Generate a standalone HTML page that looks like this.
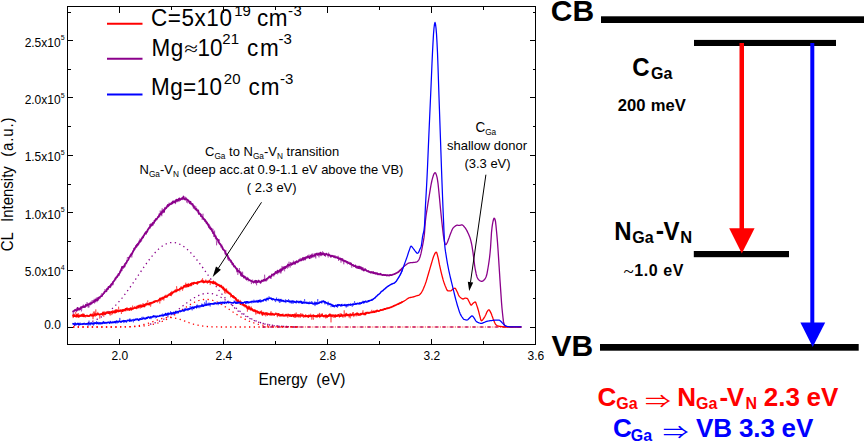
<!DOCTYPE html>
<html lang="en"><head><meta charset="utf-8"><title>CL spectra and transition scheme</title>
<style>
html,body{margin:0;padding:0;background:#fff;}
body{width:864px;height:442px;overflow:hidden;}
svg{display:block;}
text{font-family:"Liberation Sans",sans-serif;fill:#000;}
.b{font-weight:bold;}
.sym{font-family:"Liberation Serif","DejaVu Serif",serif;font-weight:normal;}
.arr{font-family:"Liberation Sans","Noto Sans CJK SC","DejaVu Sans",sans-serif;font-weight:normal;}
</style></head><body>
<svg width="864" height="442" viewBox="0 0 864 442">
<rect x="0" y="0" width="864" height="442" fill="#fff"/>
<g fill="none" stroke-width="1.3" stroke-linecap="butt" stroke-dasharray="1.3 3.4">
<path d="M74 325.6 L75 325.4 L76 325.3 L77 325.2 L78 325 L79 324.9 L80 324.7 L81 324.5 L82 324.3 L83 324.1 L84 323.9 L85 323.6 L86 323.4 L87 323.1 L88 322.8 L89 322.5 L90 322.2 L91 321.8 L92 321.4 L93 321.1 L94 320.7 L95 320.2 L96 319.8 L97 319.3 L98 318.8 L99 318.3 L100 317.7 L101 317.1 L102 316.5 L103 315.9 L104 315.2 L105 314.5 L106 313.8 L107 313.1 L108 312.3 L109 311.5 L110 310.6 L111 309.7 L112 308.8 L113 307.9 L114 306.9 L115 305.9 L116 304.9 L117 303.8 L118 302.7 L119 301.6 L120 300.5 L121 299.3 L122 298.1 L123 296.8 L124 295.5 L125 294.2 L126 292.9 L127 291.6 L128 290.2 L129 288.8 L130 287.4 L131 286 L132 284.6 L133 283.1 L134 281.7 L135 280.2 L136 278.7 L137 277.2 L138 275.7 L139 274.3 L140 272.8 L141 271.3 L142 269.8 L143 268.4 L144 266.9 L145 265.5 L146 264.1 L147 262.7 L148 261.3 L149 260 L150 258.7 L151 257.4 L152 256.2 L153 255 L154 253.8 L155 252.7 L156 251.6 L157 250.6 L158 249.6 L159 248.7 L160 247.9 L161 247.1 L162 246.3 L163 245.6 L164 245 L165 244.5 L166 244 L167 243.6 L168 243.2 L169 242.9 L170 242.7 L171 242.6 L172 242.5 L173 242.5 L174 242.6 L175 242.7 L176 242.9 L177 243.2 L178 243.5 L179 243.9 L180 244.3 L181 244.8 L182 245.4 L183 246 L184 246.7 L185 247.4 L186 248.2 L187 249.1 L188 250 L189 250.9 L190 251.9 L191 253 L192 254 L193 255.1 L194 256.3 L195 257.5 L196 258.7 L197 260 L198 261.2 L199 262.6 L200 263.9 L201 265.2 L202 266.6 L203 268 L204 269.4 L205 270.8 L206 272.2 L207 273.6 L208 275 L209 276.5 L210 277.9 L211 279.3 L212 280.7 L213 282.1 L214 283.5 L215 284.9 L216 286.3 L217 287.6 L218 289 L219 290.3 L220 291.6 L221 292.9 L222 294.2 L223 295.4 L224 296.6 L225 297.8 L226 299 L227 300.1 L228 301.3 L229 302.3 L230 303.4 L231 304.4 L232 305.4 L233 306.4 L234 307.4 L235 308.3 L236 309.2 L237 310 L238 310.9 L239 311.7 L240 312.4 L241 313.2 L242 313.9 L243 314.6 L244 315.2 L245 315.9 L246 316.5 L247 317.1 L248 317.6 L249 318.2 L250 318.7 L251 319.2 L252 319.6 L253 320.1 L254 320.5 L255 320.9 L256 321.3 L257 321.6 L258 322 L259 322.3 L260 322.6 L261 322.9 L262 323.2 L263 323.4 L264 323.7 L265 323.9 L266 324.1 L267 324.3 L268 324.5 L269 324.7 L270 324.8 L271 325 L272 325.1 L273 325.3 L274 325.4 L275 325.5 L276 325.6 L277 325.7 L278 325.8 L279 325.9 L280 326 L281 326.1 L282 326.2 L283 326.2 L284 326.3 L285 326.4 L286 326.4 L287 326.5 L288 326.5 L289 326.6 L290 326.6 L291 326.6 L292 326.7 L293 326.7 L294 326.7 L295 326.7 L296 326.8 L297 326.8 L298 326.8 L299 326.8 L300 326.8" stroke="#8b008b"/>
<path d="M150 324.2 L151 324 L152 323.7 L153 323.4 L154 323.1 L155 322.8 L156 322.4 L157 322.1 L158 321.7 L159 321.3 L160 320.9 L161 320.4 L162 320 L163 319.5 L164 319 L165 318.4 L166 317.9 L167 317.3 L168 316.7 L169 316.1 L170 315.4 L171 314.8 L172 314.1 L173 313.4 L174 312.7 L175 311.9 L176 311.2 L177 310.4 L178 309.7 L179 308.9 L180 308.1 L181 307.3 L182 306.6 L183 305.8 L184 305 L185 304.2 L186 303.4 L187 302.7 L188 301.9 L189 301.2 L190 300.5 L191 299.8 L192 299.1 L193 298.5 L194 297.8 L195 297.3 L196 296.7 L197 296.2 L198 295.7 L199 295.3 L200 294.9 L201 294.5 L202 294.2 L203 293.9 L204 293.7 L205 293.5 L206 293.4 L207 293.3 L208 293.3 L209 293.3 L210 293.4 L211 293.5 L212 293.7 L213 293.9 L214 294.2 L215 294.5 L216 294.9 L217 295.3 L218 295.7 L219 296.2 L220 296.7 L221 297.3 L222 297.8 L223 298.5 L224 299.1 L225 299.8 L226 300.5 L227 301.2 L228 301.9 L229 302.7 L230 303.4 L231 304.2 L232 305 L233 305.8 L234 306.6 L235 307.3 L236 308.1 L237 308.9 L238 309.7 L239 310.4 L240 311.2 L241 311.9 L242 312.7 L243 313.4 L244 314.1 L245 314.8 L246 315.4 L247 316.1 L248 316.7 L249 317.3 L250 317.9 L251 318.4 L252 319 L253 319.5 L254 320 L255 320.4 L256 320.9 L257 321.3 L258 321.7 L259 322.1 L260 322.4 L261 322.8 L262 323.1 L263 323.4 L264 323.7 L265 324 L266 324.2 L267 324.4 L268 324.6 L269 324.9 L270 325 L271 325.2 L272 325.4 L273 325.5 L274 325.7 L275 325.8 L276 325.9 L277 326 L278 326.1 L279 326.2 L280 326.3 L281 326.3 L282 326.4 L283 326.5 L284 326.5 L285 326.6 L286 326.6 L287 326.7 L288 326.7 L289 326.7 L290 326.8 L291 326.8 L292 326.8 L293 326.8 L294 326.9 L295 326.9 L296 326.9 L297 326.9 L298 326.9 L299 326.9 L300 326.9" stroke="#8b008b"/>
<path d="M73 327 L74 327 L75 327 L76 327 L77 327 L78 327 L79 327 L80 327 L81 327 L82 327 L83 327 L84 327 L85 327 L86 327 L87 327 L88 327 L89 327 L90 327 L91 327 L92 327 L93 327 L94 327 L95 327 L96 327 L97 327 L98 327 L99 327 L100 327 L101 327 L102 327 L103 327 L104 327 L105 327 L106 327 L107 327 L108 327 L109 327 L110 327 L111 327 L112 327 L113 327 L114 327 L115 327 L116 327 L117 327 L118 327 L119 326.9 L120 326.9 L121 326.9 L122 326.9 L123 326.9 L124 326.9 L125 326.9 L126 326.9 L127 326.8 L128 326.8 L129 326.8 L130 326.8 L131 326.7 L132 326.7 L133 326.7 L134 326.6 L135 326.6 L136 326.5 L137 326.5 L138 326.4 L139 326.3 L140 326.3 L141 326.2 L142 326.1 L143 326 L144 325.9 L145 325.8 L146 325.6 L147 325.5 L148 325.3 L149 325.2 L150 325 L151 324.8 L152 324.6 L153 324.3 L154 324.1 L155 323.8 L156 323.6 L157 323.3 L158 323 L159 322.6 L160 322.3 L161 321.9 L162 321.5 L163 321.1 L164 320.7 L165 320.2 L166 319.7 L167 319.2 L168 318.7 L169 318.2 L170 317.6 L171 317.1 L172 316.5 L173 315.9 L174 315.2 L175 314.6 L176 314 L177 313.3 L178 312.6 L179 312 L180 311.3 L181 310.6 L182 309.9 L183 309.2 L184 308.6 L185 307.9 L186 307.2 L187 306.6 L188 305.9 L189 305.3 L190 304.7 L191 304.1 L192 303.6 L193 303 L194 302.5 L195 302 L196 301.6 L197 301.2 L198 300.8 L199 300.5 L200 300.2 L201 300 L202 299.8 L203 299.6 L204 299.5 L205 299.4 L206 299.4 L207 299.4 L208 299.5 L209 299.6 L210 299.8 L211 300 L212 300.2 L213 300.5 L214 300.8 L215 301.2 L216 301.6 L217 302 L218 302.5 L219 303 L220 303.6 L221 304.1 L222 304.7 L223 305.3 L224 305.9 L225 306.6 L226 307.2 L227 307.9 L228 308.6 L229 309.2 L230 309.9 L231 310.6 L232 311.3 L233 312 L234 312.6 L235 313.3 L236 314 L237 314.6 L238 315.2 L239 315.9 L240 316.5 L241 317.1 L242 317.6 L243 318.2 L244 318.7 L245 319.2 L246 319.7 L247 320.2 L248 320.7 L249 321.1 L250 321.5 L251 321.9 L252 322.3 L253 322.6 L254 323 L255 323.3 L256 323.6 L257 323.8 L258 324.1 L259 324.3 L260 324.6 L261 324.8 L262 325 L263 325.2 L264 325.3 L265 325.5 L266 325.6 L267 325.8 L268 325.9 L269 326 L270 326.1 L271 326.2 L272 326.3 L273 326.3 L274 326.4 L275 326.5 L276 326.5 L277 326.6 L278 326.6 L279 326.7 L280 326.7 L281 326.7 L282 326.8 L283 326.8 L284 326.8 L285 326.8 L286 326.9 L287 326.9 L288 326.9 L289 326.9 L290 326.9 L291 326.9 L292 326.9 L293 326.9 L294 327 L295 327 L296 327 L297 327 L298 327 L299 327 L300 327" stroke="#ff0000"/>
<path d="M73 327 L74 327 L75 327 L76 327 L77 327 L78 327 L79 327 L80 327 L81 327 L82 327 L83 327 L84 327 L85 327 L86 327 L87 327 L88 327 L89 327 L90 327 L91 327 L92 327 L93 327 L94 327 L95 327 L96 327 L97 327 L98 327 L99 327 L100 327 L101 327 L102 327 L103 327 L104 327 L105 327 L106 327 L107 327 L108 327 L109 327 L110 327 L111 327 L112 327 L113 327 L114 327 L115 327 L116 327 L117 327 L118 327 L119 327 L120 326.9 L121 326.9 L122 326.9 L123 326.9 L124 326.9 L125 326.8 L126 326.8 L127 326.8 L128 326.7 L129 326.7 L130 326.6 L131 326.6 L132 326.5 L133 326.4 L134 326.3 L135 326.2 L136 326.1 L137 325.9 L138 325.8 L139 325.6 L140 325.4 L141 325.2 L142 325 L143 324.8 L144 324.5 L145 324.3 L146 324 L147 323.7 L148 323.4 L149 323 L150 322.7 L151 322.3 L152 322 L153 321.6 L154 321.2 L155 320.9 L156 320.5 L157 320.1 L158 319.8 L159 319.4 L160 319.1 L161 318.8 L162 318.5 L163 318.3 L164 318.1 L165 317.9 L166 317.7 L167 317.6 L168 317.5 L169 317.5 L170 317.5 L171 317.5 L172 317.6 L173 317.7 L174 317.9 L175 318.1 L176 318.3 L177 318.5 L178 318.8 L179 319.1 L180 319.4 L181 319.8 L182 320.1 L183 320.5 L184 320.9 L185 321.2 L186 321.6 L187 322 L188 322.3 L189 322.7 L190 323 L191 323.4 L192 323.7 L193 324 L194 324.3 L195 324.5 L196 324.8 L197 325 L198 325.2 L199 325.4 L200 325.6 L201 325.8 L202 325.9 L203 326.1 L204 326.2 L205 326.3 L206 326.4 L207 326.5 L208 326.6 L209 326.6 L210 326.7 L211 326.7 L212 326.8 L213 326.8 L214 326.8 L215 326.9 L216 326.9 L217 326.9 L218 326.9 L219 326.9 L220 327 L221 327 L222 327 L223 327 L224 327 L225 327 L226 327 L227 327 L228 327 L229 327 L230 327 L231 327 L232 327 L233 327 L234 327 L235 327 L236 327 L237 327 L238 327 L239 327 L240 327 L241 327 L242 327 L243 327 L244 327 L245 327 L246 327 L247 327 L248 327 L249 327 L250 327 L251 327 L252 327 L253 327 L254 327 L255 327 L256 327 L257 327 L258 327 L259 327 L260 327 L261 327 L262 327 L263 327 L264 327 L265 327 L266 327 L267 327 L268 327 L269 327 L270 327 L271 327 L272 327 L273 327 L274 327 L275 327 L276 327 L277 327 L278 327 L279 327 L280 327 L281 327 L282 327 L283 327 L284 327 L285 327 L286 327 L287 327 L288 327 L289 327 L290 327 L291 327 L292 327 L293 327 L294 327 L295 327 L296 327 L297 327 L298 327 L299 327 L300 327" stroke="#ff0000"/>
</g>
<path d="M262 327 H521" fill="none" stroke="#ff0000" stroke-width="0.95" stroke-dasharray="4.2 1.2 0.9 1.2"/>
<path d="M263 327 H521" fill="none" stroke="#8b008b" stroke-width="0.95" stroke-dasharray="2.2 5.3"/>
<g fill="none" stroke-linejoin="round" stroke-linecap="round">
<path d="M73 312.5 L73.4 315.7 L73.8 312.2 L74.2 311.9 L74.6 309.5 L75 309.7 L75.4 309 L75.8 309.6 L76.2 308.6 L76.6 309.1 L77 309.6 L77.4 308.3 L77.8 309 L78.2 307.5 L78.6 309.9 L79 309.2 L79.4 310.4 L79.8 310.3 L80.2 308.1 L80.6 309.4 L81 306.2 L81.4 311.4 L81.8 309.6 L82.2 307.5 L82.6 305.9 L83 308 L83.4 304.6 L83.8 305.9 L84.2 307.9 L84.6 306.8 L85 306.5 L85.4 307.7 L85.8 304.6 L86.2 306.3 L86.6 305.1 L87 302.1 L87.4 303.1 L87.8 303.7 L88.2 307.7 L88.6 303.9 L89 307.4 L89.4 302.8 L89.8 304.9 L90.2 302.1 L90.6 301.7 L91 303.6 L91.4 304.1 L91.8 301.1 L92.2 300 L92.6 301.3 L93 302.4 L93.4 302.5 L93.8 302.5 L94.2 298.8 L94.6 303.5 L95 301.7 L95.4 300 L95.8 298.8 L96.2 297.6 L96.6 297.8 L97 302.2 L97.4 298.6 L97.8 297.2 L98.2 297.7 L98.6 300.4 L99 297.4 L99.4 296.7 L99.8 299.1 L100.2 297.5 L100.6 296.5 L101 295.2 L101.4 293.5 L101.8 293.7 L102.2 294.3 L102.6 294.3 L103 294.7 L103.4 294.5 L103.8 293.7 L104.2 293.2 L104.6 291 L105 289 L105.4 290.9 L105.8 289.8 L106.2 289.8 L106.6 289.8 L107 288 L107.4 287.7 L107.8 288.7 L108.2 288.5 L108.6 287 L109 288.1 L109.4 286.6 L109.8 285 L110.2 286 L110.6 288.1 L111 284 L111.4 286.1 L111.8 285.9 L112.2 285.5 L112.6 281.7 L113 285.2 L113.4 281.9 L113.8 280.8 L114.2 280.3 L114.6 280.9 L115 279.6 L115.4 278.7 L115.8 280.2 L116.2 276.7 L116.6 275.7 L117 277.7 L117.4 277 L117.8 277 L118.2 273.3 L118.6 275.8 L119 274.4 L119.4 275.6 L119.8 270.7 L120.2 272.2 L120.6 270.9 L121 268.4 L121.4 269.1 L121.8 271.1 L122.2 268.2 L122.6 267.3 L123 268.9 L123.4 268.5 L123.8 267.9 L124.2 264.7 L124.6 265.1 L125 266.1 L125.4 263 L125.8 262.3 L126.2 263.9 L126.6 264.3 L127 259.8 L127.4 257.1 L127.8 258.1 L128.2 258 L128.6 258.6 L129 259.1 L129.4 257.3 L129.8 255.9 L130.2 256.5 L130.6 254.2 L131 254.9 L131.4 253.4 L131.8 257.5 L132.2 254.2 L132.6 251.2 L133 250.3 L133.4 250.5 L133.8 248.1 L134.2 248.8 L134.6 248.2 L135 249.9 L135.4 247.4 L135.8 246.3 L136.2 246.2 L136.6 244.5 L137 245.5 L137.4 244.7 L137.8 246 L138.2 242.9 L138.6 244.8 L139 243 L139.4 242.1 L139.8 238.6 L140.2 239.1 L140.6 241.4 L141 241.8 L141.4 239.5 L141.8 240.4 L142.2 237.4 L142.6 238.8 L143 235.9 L143.4 237.7 L143.8 236.2 L144.2 234.8 L144.6 234.1 L145 234.8 L145.4 233.9 L145.8 231.6 L146.2 234.7 L146.6 232 L147 231.1 L147.4 232.6 L147.8 231.4 L148.2 228.6 L148.6 229.6 L149 226.8 L149.4 226.9 L149.8 224 L150.2 228.5 L150.6 223.5 L151 226.7 L151.4 224 L151.8 223.3 L152.2 224 L152.6 224.2 L153 223.2 L153.4 225.4 L153.8 222.9 L154.2 223.2 L154.6 220.6 L155 222 L155.4 220.7 L155.8 219.3 L156.2 219.4 L156.6 219 L157 219.4 L157.4 218.6 L157.8 216.8 L158.2 216 L158.6 217.6 L159 213.6 L159.4 215.8 L159.8 217.2 L160.2 210.6 L160.6 213 L161 215.1 L161.4 210.6 L161.8 216.2 L162.2 208.3 L162.6 213.6 L163 213.3 L163.4 211.9 L163.8 210.1 L164.2 210.3 L164.6 207.3 L165 210 L165.4 206.8 L165.8 207.6 L166.2 209 L166.6 205.6 L167 206.2 L167.4 206.6 L167.8 204 L168.2 207.2 L168.6 205.7 L169 202.7 L169.4 204.5 L169.8 203.1 L170.2 203 L170.6 203.8 L171 202.4 L171.4 204.5 L171.8 203.3 L172.2 204.1 L172.6 202.4 L173 200.9 L173.4 201.2 L173.8 201.1 L174.2 200 L174.6 202.2 L175 202.6 L175.4 204.1 L175.8 202.7 L176.2 201.1 L176.6 200.3 L177 201 L177.4 200.3 L177.8 202.2 L178.2 201.4 L178.6 198.7 L179 198.7 L179.4 201.5 L179.8 199.9 L180.2 199 L180.6 200.9 L181 198.5 L181.4 198.6 L181.8 198.3 L182.2 197 L182.6 200.1 L183 197.1 L183.4 198 L183.8 197.8 L184.2 199.9 L184.6 198.9 L185 199.1 L185.4 196.8 L185.8 199.3 L186.2 197.4 L186.6 202.5 L187 200.4 L187.4 200.1 L187.8 203.3 L188.2 201.4 L188.6 201.8 L189 201.5 L189.4 201.4 L189.8 203.4 L190.2 204 L190.6 200.9 L191 204.7 L191.4 204.4 L191.8 205.4 L192.2 205.2 L192.6 203.2 L193 203.9 L193.4 208.7 L193.8 206.1 L194.2 205.1 L194.6 208.2 L195 207.7 L195.4 206.1 L195.8 206 L196.2 207.5 L196.6 210.8 L197 210.8 L197.4 211 L197.8 212.3 L198.2 213.2 L198.6 209.8 L199 212.7 L199.4 212.5 L199.8 212.4 L200.2 213.9 L200.6 214.9 L201 215.2 L201.4 213.9 L201.8 215.8 L202.2 219.8 L202.6 215.9 L203 213.7 L203.4 218.8 L203.8 219.7 L204.2 220 L204.6 218.3 L205 221.9 L205.4 219.8 L205.8 219.9 L206.2 221.2 L206.6 222.5 L207 224.3 L207.4 224.7 L207.8 224.4 L208.2 226.3 L208.6 223.6 L209 227.5 L209.4 224.8 L209.8 225.2 L210.2 229.1 L210.6 226.6 L211 228.8 L211.4 229.7 L211.8 229.8 L212.2 230.5 L212.6 234 L213 228.8 L213.4 234.3 L213.8 237 L214.2 234.4 L214.6 230.6 L215 236.7 L215.4 238.9 L215.8 235.2 L216.2 237.7 L216.6 245.3 L217 239.7 L217.4 239.8 L217.8 241.1 L218.2 240.2 L218.6 241.6 L219 241.2 L219.4 239.4 L219.8 243.2 L220.2 243.8 L220.6 243 L221 247.6 L221.4 245.8 L221.8 244.6 L222.2 248.8 L222.6 246.8 L223 249.2 L223.4 249.1 L223.8 250.2 L224.2 250.7 L224.6 250.3 L225 251.8 L225.4 255.4 L225.8 249.9 L226.2 253.9 L226.6 255.1 L227 253.7 L227.4 253.9 L227.8 259.6 L228.2 256.6 L228.6 260.8 L229 259.2 L229.4 259.2 L229.8 260.4 L230.2 261.3 L230.6 262.7 L231 262.2 L231.4 262.4 L231.8 263 L232.2 265.2 L232.6 265 L233 262.9 L233.4 264 L233.8 265.9 L234.2 265.1 L234.6 265.9 L235 265.6 L235.4 267.1 L235.8 268.6 L236.2 269.9 L236.6 269 L237 272.4 L237.4 268.1 L237.8 274.9 L238.2 272.2 L238.6 271.9 L239 270.9 L239.4 268 L239.8 272.3 L240.2 273.2 L240.6 276.1 L241 271.7 L241.4 276.8 L241.8 274.2 L242.2 276 L242.6 271.7 L243 275.9 L243.4 275.6 L243.8 277.4 L244.2 276.9 L244.6 275.5 L245 278.8 L245.4 278.8 L245.8 278.9 L246.2 279.8 L246.6 280.2 L247 278.8 L247.4 277.1 L247.8 277.2 L248.2 281.4 L248.6 280.7 L249 280 L249.4 279.4 L249.8 280.3 L250.2 280.5 L250.6 280.2 L251 279.8 L251.4 284.1 L251.8 281.5 L252.2 280.4 L252.6 279.6 L253 280.5 L253.4 282.7 L253.8 282.8 L254.2 281.4 L254.6 281.9 L255 281.4 L255.4 280.2 L255.8 283.7 L256.2 282.3 L256.6 285.3 L257 280.7 L257.4 281.6 L257.8 283 L258.2 281.4 L258.6 279.7 L259 280.3 L259.4 281.8 L259.8 282.1 L260.2 281.4 L260.6 283 L261 282.9 L261.4 281.8 L261.8 281.3 L262.2 280.8 L262.6 280.1 L263 282.1 L263.4 280.7 L263.8 281.1 L264.2 279.8 L264.6 274.7 L265 278.4 L265.4 280.7 L265.8 280.1 L266.2 281.5 L266.6 279.1 L267 280 L267.4 280.4 L267.8 279.8 L268.2 277.2 L268.6 277.6 L269 277.8 L269.4 275.9 L269.8 277.8 L270.2 278.3 L270.6 275.8 L271 279 L271.4 275.5 L271.8 275.3 L272.2 275 L272.6 274 L273 275.3 L273.4 274.4 L273.8 276.5 L274.2 274.7 L274.6 274.3 L275 273 L275.4 271 L275.8 272.7 L276.2 271.3 L276.6 273.7 L277 272 L277.4 274.2 L277.8 274.3 L278.2 272.5 L278.6 271.4 L279 271.1 L279.4 271.5 L279.8 271.7 L280.2 273.3 L280.6 270.6 L281 273.4 L281.4 269.3 L281.8 266.1 L282.2 266.3 L282.6 266.7 L283 270.2 L283.4 268.4 L283.8 268.5 L284.2 270.5 L284.6 271.3 L285 266.2 L285.4 268.8 L285.8 268 L286.2 267.5 L286.6 267.4 L287 266.5 L287.4 268.6 L287.8 267 L288.2 266.4 L288.6 267.5 L289 261.7 L289.4 266 L289.8 265.7 L290.2 267.5 L290.6 262 L291 264.5 L291.4 263.9 L291.8 263.8 L292.2 262.6 L292.6 264.1 L293 264.1 L293.4 260.6 L293.8 263.4 L294.2 264.1 L294.6 263.2 L295 261.4 L295.4 264.4 L295.8 261.4 L296.2 260.5 L296.6 260.5 L297 261.8 L297.4 263.1 L297.8 263.1 L298.2 261.6 L298.6 259.4 L299 260 L299.4 259.5 L299.8 260.3 L300.2 257.9 L300.6 260.4 L301 261 L301.4 259.7 L301.8 260.4 L302.2 258.2 L302.6 257.3 L303 258.3 L303.4 260.7 L303.8 260.3 L304.2 258 L304.6 260.2 L305 257.9 L305.4 260.3 L305.8 258.7 L306.2 257.2 L306.6 258.8 L307 256.4 L307.4 256.1 L307.8 255.2 L308.2 257.5 L308.6 256.9 L309 254.5 L309.4 256.1 L309.8 258.7 L310.2 258.7 L310.6 255.3 L311 258 L311.4 258.2 L311.8 256.5 L312.2 253.4 L312.6 254.9 L313 256.5 L313.4 255.5 L313.8 257.6 L314.2 253.3 L314.6 256.1 L315 254.2 L315.4 256.8 L315.8 258.5 L316.2 256.2 L316.6 253.7 L317 252.5 L317.4 252.9 L317.8 253.5 L318.2 252.9 L318.6 256 L319 257.4 L319.4 254.6 L319.8 252.7 L320.2 254.8 L320.6 253.1 L321 256.2 L321.4 254.6 L321.8 254.8 L322.2 253.6 L322.6 251.3 L323 253.1 L323.4 252.7 L323.8 254.8 L324.2 254.5 L324.6 253.3 L325 253.9 L325.4 256.8 L325.8 253.2 L326.2 253.4 L326.6 254.4 L327 253.8 L327.4 254.3 L327.8 255.7 L328.2 257.5 L328.6 252.6 L329 255.2 L329.4 255.4 L329.8 255.3 L330.2 255.2 L330.6 255.1 L331 257.1 L331.4 255.2 L331.8 255.8 L332.2 256.1 L332.6 256.4 L333 256.1 L333.4 257.9 L333.8 256.6 L334.2 257 L334.6 256.8 L335 255.6 L335.4 256 L335.8 255.8 L336.2 257.7 L336.6 256.6 L337 256.3 L337.4 258.3 L337.8 258.9 L338.2 255.8 L338.6 260.9 L339 258.7 L339.4 258.7 L339.8 257.9 L340.2 259.3 L340.6 258.5 L341 262.7 L341.4 258.2 L341.8 259.8 L342.2 261.3 L342.6 258.7 L343 260.3 L343.4 261.2 L343.8 264.3 L344.2 259.7 L344.6 261.1 L345 262.3 L345.4 261.7 L345.8 260.1 L346.2 262.6 L346.6 262.3 L347 263 L347.4 264.2 L347.8 264.2 L348.2 263.5 L348.6 263.6 L349 261.7 L349.4 263.3 L349.8 264 L350.2 263.3 L350.6 264.2 L351 263.1 L351.4 266.6 L351.8 267.7 L352.2 264.3 L352.6 265.6 L353 264.9 L353.4 267.1 L353.8 266.2 L354.2 265.9 L354.6 265.7 L355 266.3 L355.4 265.6 L355.8 268.1 L356.2 265.8 L356.6 267.5 L357 267.2 L357.4 268.5 L357.8 267.3 L358.2 268.7 L358.6 266.5 L359 268.5 L359.4 267.7 L359.8 268.3 L360.2 268.3 L360.6 269.4 L361 266.3 L361.4 269 L361.8 267.2 L362.2 270.2 L362.6 267 L363 268.2 L363.4 267.7 L363.8 271.2 L364.2 268.4 L364.6 269.9 L365 269.4 L365.4 268.4 L365.8 269.9 L366.2 271 L366.6 270.4 L367 271.6 L367.4 270.6 L367.8 271 L368.2 270.9 L368.6 271.6 L369 273 L369.4 271.9 L369.8 271.9 L370.2 271.4 L370.6 271.7 L371 273.3 L371.4 271.5 L371.8 271.8 L372.2 272.5 L372.6 272.4 L373 274.1 L373.4 271.3 L373.8 273.3 L374.2 273.6 L374.6 272.5 L375 273 L375.4 273.7 L375.8 274.5 L376.2 273.1 L376.6 272.9 L377 274.4 L377.4 274.7 L377.8 273.8 L378.2 273 L378.6 274.9 L379 274.2 L379.4 274.8 L379.8 274.3 L380.2 274.2 L380.6 274.3 L381 274.6 L381.4 275.1 L381.8 273.9 L382.2 274.4 L382.6 275.3 L383 274.7 L383.4 274.4 L383.8 274.9 L384.2 274.9 L384.6 275 L385 274.9 L385.4 275 L385.8 275 L386.2 275.2 L386.6 275 L387 275.2 L387.4 275.2 L387.8 275.5 L388.2 275.3 L388.6 275.4 L389 275.4 L389.4 275.3 L389.8 275.4 L390.2 275.1 L390.6 275.3 L391 275.2 L391.4 275.1 L391.8 275 L392.2 274.9 L392.6 274.7 L393 274.6 L393.4 274.5 L393.8 274.3 L394.2 274.1 L394.6 274 L395 273.8 L395.4 273.6 L395.8 273.4 L396.2 273.2 L396.6 273 L397 272.8 L397.4 272.6 L397.8 272.3 L398.2 272 L398.6 271.7 L399 271.4 L399.4 271 L399.8 270.6 L400.2 270.2 L400.6 269.9 L401 269.5 L401.4 269.1 L401.8 268.7 L402.2 268.3" stroke="#8b008b" stroke-width="0.6" opacity="0.8"/>
<path d="M73 311.3 L73.5 311.3 L74 310.8 L74.5 310.3 L75 310.4 L75.5 309.9 L76 310.3 L76.5 310.8 L77 309.6 L77.5 307.9 L78 309.8 L78.5 309.5 L79 309.2 L79.5 308.4 L80 308.7 L80.5 308.9 L81 307.5 L81.5 307.8 L82 306.8 L82.5 306.9 L83 306.4 L83.5 307.1 L84 306.3 L84.5 306.9 L85 306.6 L85.5 306.2 L86 304.6 L86.5 305.5 L87 305.5 L87.5 305.4 L88 304.2 L88.5 304.5 L89 304 L89.5 303.8 L90 304.5 L90.5 303.2 L91 303.4 L91.5 303.6 L92 302.5 L92.5 302.6 L93 302.2 L93.5 301.9 L94 300.9 L94.5 301.3 L95 301.6 L95.5 299.7 L96 300.6 L96.5 299.9 L97 299.1 L97.5 300.1 L98 299.1 L98.5 297.6 L99 297.9 L99.5 297.7 L100 296.9 L100.5 296.9 L101 296.1 L101.5 296 L102 296 L102.5 294.3 L103 294.3 L103.5 293.4 L104 293.2 L104.5 291.9 L105 291.7 L105.5 291.4 L106 291.4 L106.5 291 L107 289.1 L107.5 288.8 L108 289 L108.5 286.9 L109 287.2 L109.5 286.8 L110 286.9 L110.5 286 L111 284.8 L111.5 284.1 L112 283.5 L112.5 283.8 L113 282.1 L113.5 281.5 L114 281.1 L114.5 280.2 L115 279.4 L115.5 278.2 L116 278.1 L116.5 277.1 L117 277.2 L117.5 276.2 L118 275.1 L118.5 274.8 L119 273.5 L119.5 273.5 L120 272.2 L120.5 271.8 L121 270 L121.5 270.2 L122 266.9 L122.5 267.3 L123 267.5 L123.5 266.4 L124 266.2 L124.5 266.6 L125 264.1 L125.5 263.5 L126 263.1 L126.5 262.5 L127 261.3 L127.5 260.5 L128 260.2 L128.5 259.3 L129 257.6 L129.5 257.3 L130 256.6 L130.5 255.2 L131 255.1 L131.5 253.7 L132 253.9 L132.5 252.6 L133 251.8 L133.5 250.6 L134 250.1 L134.5 248.3 L135 248 L135.5 247.8 L136 245.9 L136.5 246.8 L137 244.6 L137.5 245.3 L138 243.6 L138.5 243.8 L139 242.7 L139.5 241.1 L140 241.9 L140.5 241.3 L141 239.7 L141.5 238.9 L142 238.2 L142.5 237.1 L143 237.5 L143.5 235.9 L144 235.4 L144.5 234.3 L145 233.6 L145.5 232.5 L146 233.2 L146.5 231.7 L147 231.6 L147.5 230.4 L148 229.3 L148.5 228.8 L149 228 L149.5 227.7 L150 226.8 L150.5 226.2 L151 225 L151.5 224.7 L152 225.4 L152.5 223.5 L153 222.7 L153.5 222.9 L154 222.9 L154.5 220.7 L155 220.8 L155.5 220 L156 218.8 L156.5 219.6 L157 218.5 L157.5 218 L158 216.9 L158.5 216.9 L159 215.7 L159.5 215.3 L160 214.1 L160.5 213.4 L161 214.2 L161.5 212.6 L162 212.4 L162.5 211.6 L163 210.8 L163.5 210.2 L164 212 L164.5 209.3 L165 208.8 L165.5 208.3 L166 208.4 L166.5 207.6 L167 207 L167.5 205.9 L168 205 L168.5 205.8 L169 205.4 L169.5 204.4 L170 204.4 L170.5 204.2 L171 203.9 L171.5 203.6 L172 202.5 L172.5 203.3 L173 201.5 L173.5 202.4 L174 202 L174.5 201.9 L175 202.3 L175.5 201.8 L176 200.2 L176.5 199.7 L177 200.9 L177.5 199.7 L178 200.1 L178.5 200.4 L179 198.8 L179.5 198.4 L180 199.5 L180.5 199.3 L181 199 L181.5 199 L182 198.4 L182.5 198 L183 198.7 L183.5 196.5 L184 198 L184.5 199.3 L185 199.1 L185.5 199.5 L186 198.9 L186.5 199.3 L187 199.4 L187.5 199.7 L188 200.6 L188.5 200.4 L189 201.5 L189.5 201.9 L190 203.3 L190.5 201.9 L191 203.7 L191.5 203.7 L192 204.3 L192.5 204.1 L193 205.3 L193.5 206.6 L194 206.8 L194.5 207.6 L195 208.1 L195.5 209.5 L196 209.6 L196.5 209 L197 210.5 L197.5 210.4 L198 210.3 L198.5 212.4 L199 214 L199.5 213.9 L200 213.8 L200.5 214.5 L201 216.2 L201.5 216.2 L202 216.7 L202.5 217.2 L203 217.9 L203.5 218.9 L204 219.4 L204.5 219.9 L205 219.9 L205.5 221.4 L206 221.4 L206.5 223.1 L207 222.5 L207.5 223.9 L208 224.7 L208.5 224.7 L209 227.1 L209.5 227.8 L210 227.5 L210.5 228.9 L211 229.5 L211.5 228.6 L212 230.9 L212.5 231.6 L213 232.4 L213.5 232.6 L214 233.9 L214.5 234.7 L215 236.3 L215.5 236.6 L216 237.3 L216.5 238.9 L217 238.6 L217.5 239.5 L218 239.5 L218.5 242.2 L219 242.7 L219.5 243.6 L220 244.1 L220.5 244.6 L221 245.4 L221.5 246 L222 246.8 L222.5 247.7 L223 249.4 L223.5 249.6 L224 250.1 L224.5 250.6 L225 251.4 L225.5 253.5 L226 253.7 L226.5 254.4 L227 255 L227.5 255.4 L228 256.8 L228.5 258.1 L229 258.2 L229.5 259.1 L230 259.9 L230.5 260.9 L231 260.7 L231.5 262.2 L232 262.5 L232.5 264.2 L233 263.9 L233.5 265.3 L234 266.5 L234.5 266.2 L235 266.6 L235.5 267.7 L236 268.2 L236.5 268.3 L237 269.7 L237.5 271.1 L238 270.4 L238.5 271 L239 271.1 L239.5 272.4 L240 272 L240.5 272.6 L241 274.4 L241.5 273.7 L242 275.3 L242.5 276.1 L243 275.8 L243.5 276.5 L244 277.7 L244.5 276.9 L245 277.1 L245.5 277.1 L246 278.2 L246.5 279.3 L247 279.3 L247.5 278.5 L248 278.9 L248.5 279.4 L249 280 L249.5 280 L250 280.5 L250.5 280.8 L251 280.7 L251.5 281 L252 281.3 L252.5 281.3 L253 281.8 L253.5 282.7 L254 282.1 L254.5 281.8 L255 280.9 L255.5 282 L256 280.7 L256.5 281 L257 282.2 L257.5 282.1 L258 281.6 L258.5 280.8 L259 281.5 L259.5 281.3 L260 282 L260.5 282.8 L261 281.6 L261.5 280.9 L262 280.5 L262.5 281 L263 280.7 L263.5 280 L264 280.4 L264.5 279.5 L265 280.5 L265.5 280.2 L266 279.9 L266.5 278.8 L267 279 L267.5 278.4 L268 278 L268.5 277.7 L269 276.9 L269.5 276.5 L270 277.4 L270.5 276.5 L271 276.3 L271.5 276.4 L272 274.5 L272.5 274.6 L273 274.8 L273.5 274.5 L274 273.8 L274.5 274.2 L275 273.4 L275.5 272.3 L276 272.2 L276.5 272.8 L277 272.3 L277.5 270.7 L278 272.2 L278.5 271.5 L279 271.6 L279.5 270.3 L280 270.1 L280.5 269.3 L281 271 L281.5 269.3 L282 270 L282.5 268.5 L283 268.6 L283.5 267.3 L284 267.8 L284.5 268.3 L285 266.8 L285.5 267.8 L286 267.2 L286.5 266.2 L287 266.2 L287.5 266 L288 264.5 L288.5 265.5 L289 265.1 L289.5 265.2 L290 264.5 L290.5 264.2 L291 264.6 L291.5 264.9 L292 263.3 L292.5 264 L293 263.4 L293.5 262.9 L294 263.7 L294.5 262.7 L295 263.6 L295.5 262.1 L296 262.5 L296.5 261.9 L297 261.4 L297.5 261.9 L298 261.3 L298.5 261.5 L299 260.9 L299.5 260.1 L300 260.4 L300.5 260.3 L301 260.6 L301.5 259.4 L302 259.6 L302.5 258.5 L303 259.6 L303.5 258.4 L304 257.8 L304.5 258.5 L305 258.9 L305.5 257.3 L306 257.3 L306.5 257.3 L307 256.9 L307.5 257.6 L308 256.7 L308.5 256.6 L309 257.2 L309.5 258.2 L310 256.8 L310.5 255.9 L311 255.6 L311.5 255.1 L312 257 L312.5 255.6 L313 255.8 L313.5 255.5 L314 255.4 L314.5 255.2 L315 256.1 L315.5 254.3 L316 253.9 L316.5 254.1 L317 253.8 L317.5 254.9 L318 254.8 L318.5 253.8 L319 253.5 L319.5 254 L320 254.9 L320.5 252.6 L321 254.4 L321.5 253.5 L322 254.7 L322.5 253.6 L323 254 L323.5 253.4 L324 253.8 L324.5 255.2 L325 254.9 L325.5 254.3 L326 254.2 L326.5 253.7 L327 254.6 L327.5 254.9 L328 255 L328.5 255 L329 254.6 L329.5 255.3 L330 255.4 L330.5 256.3 L331 256.7 L331.5 255.8 L332 255.6 L332.5 256.1 L333 256 L333.5 256.1 L334 256.6 L334.5 256.3 L335 257.3 L335.5 257.1 L336 257.5 L336.5 257.5 L337 257.4 L337.5 257.5 L338 258.1 L338.5 258.1 L339 258.8 L339.5 258.9 L340 258.3 L340.5 259.4 L341 258.8 L341.5 259.4 L342 259.8 L342.5 259.1 L343 260.5 L343.5 260.8 L344 260.8 L344.5 260.9 L345 261.2 L345.5 261.1 L346 261.7 L346.5 261.8 L347 262.4 L347.5 261.9 L348 263 L348.5 263.2 L349 263.2 L349.5 263.3 L350 264.1 L350.5 263.1 L351 263.4 L351.5 264.6 L352 264.9 L352.5 265.2 L353 264.9 L353.5 265.3 L354 266 L354.5 266.1 L355 266.3 L355.5 265.5 L356 266.9 L356.5 267.4 L357 267.6 L357.5 267.3 L358 266.5 L358.5 268.1 L359 267.7 L359.5 266.6 L360 268.4 L360.5 267.5 L361 267.8 L361.5 268.4 L362 269.5 L362.5 268.9 L363 269.4 L363.5 270.3 L364 270.4 L364.5 269.7 L365 269.8 L365.5 269.5 L366 270 L366.5 270.7 L367 270.9 L367.5 271 L368 271.5 L368.5 271 L369 271.5 L369.5 272 L370 272.1 L370.5 272.5 L371 272.3 L371.5 272.2 L372 272.6 L372.5 272.3 L373 272.2 L373.5 273.1 L374 273.1 L374.5 273.3 L375 272.8 L375.5 273.4 L376 273.6 L376.5 273.4 L377 273.1 L377.5 273.8 L378 274.3 L378.5 274.3 L379 274 L379.5 274.3 L380 274.6 L380.5 273.7 L381 274.5 L381.5 274.7 L382 274.8 L382.5 275.1 L383 275.1 L383.5 274.9 L384 275 L384.5 275.1 L385 274.9 L385.5 275.1 L386 275.3 L386.5 275.5 L387 275.2 L387.5 275.2 L388 275.3 L388.5 275.5 L389 275.3 L389.5 275.5 L390 274.8 L390.5 275.2 L391 275.1 L391.5 275.1 L392 275 L392.5 274.6 L393 274.5 L393.5 274.4 L394 274.2 L394.5 273.9 L395 273.8 L395.5 273.6 L396 273.3 L396.5 273 L397 272.8 L397.5 272.5 L398 272.2 L398.5 271.8 L399 271.3 L399.5 270.9 L400 270.4 L400.5 270 L401 269.5 L401.5 269 L402 268.5" stroke="#8b008b" stroke-width="1.75"/>
<path d="M402 268.5 L402.5 268 L403 267.4 L403.5 266.9 L404 266.4 L404.5 266 L405 265.6 L405.5 265.2 L406 264.8 L406.5 264.4 L407 264 L407.5 263.7 L408 263.4 L408.5 263.2 L409 263 L409.5 262.9 L410 262.8 L410.5 262.7 L411 262.7 L411.5 262.7 L412 262.6 L412.5 262.6 L413 262.5 L413.5 262.4 L414 262.4 L414.5 262.3 L415 262.3 L415.5 262.2 L416 262.1 L416.5 262 L417 261.8 L417.5 261.5 L418 260.9 L418.5 260.3 L419 259.5 L419.5 258.4 L420 257 L420.5 255.3 L421 253.4 L421.5 251.1 L422 248.6 L422.5 246 L423 243.4 L423.5 240.6 L424 237.4 L424.5 232.9 L425 226 L425.5 220.2 L426 216.1 L426.5 212.7 L427 209.6 L427.5 206.3 L428 203.1 L428.5 200.1 L429 197 L429.5 194 L430 190.9 L430.5 187.8 L431 185 L431.5 182.5 L432 180.2 L432.5 178.3 L433 176.6 L433.5 175 L434 173.8 L434.5 173.1 L435 172.7 L435.5 172.8 L436 173.9 L436.5 175.3 L437 177.2 L437.5 179.8 L438 183.3 L438.5 188 L439 193 L439.5 198.1 L440 203.5 L440.5 208.9 L441 213.8 L441.5 218.6 L442 223.2 L442.5 227.7 L443 232.1 L443.5 236.1 L444 239.2 L444.5 241.8 L445 243.4 L445.5 244.5 L446 244.5 L446.5 243.8 L447 243 L447.5 242 L448 240.6 L448.5 239.2 L449 237.9 L449.5 236.5 L450 235.1 L450.5 233.8 L451 232.5 L451.5 231.3 L452 230 L452.5 229 L453 228.2 L453.5 227.6 L454 227.1 L454.5 226.7 L455 226.3 L455.5 225.9 L456 225.6 L456.5 225.3 L457 225.2 L457.5 225.2 L458 225.3 L458.5 225.3 L459 225.4 L459.5 225.4 L460 225.3 L460.5 225.2 L461 225 L461.5 224.9 L462 224.8 L462.5 225 L463 225.4 L463.5 225.9 L464 226.5 L464.5 227.1 L465 227.7 L465.5 228.4 L466 229.1 L466.5 230 L467 230.9 L467.5 231.9 L468 233 L468.5 234.1 L469 235.2 L469.5 236.4 L470 237.8 L470.5 239.4 L471 241.3 L471.5 243.5 L472 246.2 L472.5 249.4 L473 252.7 L473.5 256.3 L474 260.2 L474.5 264.5 L475 268 L475.5 270.7 L476 273.2 L476.5 275.3 L477 276.9 L477.5 278 L478 278.9 L478.5 279.6 L479 280.1 L479.5 280.5 L480 280.8 L480.5 281 L481 281.1 L481.5 281.3 L482 281.3 L482.5 281.2 L483 280.9 L483.5 280.5 L484 280 L484.5 279.5 L485 278.9 L485.5 278 L486 276.9 L486.5 275.6 L487 273.6 L487.5 270.9 L488 268 L488.5 265 L489 261.7 L489.5 258 L490 253.5 L490.5 248 L491 240.2 L491.5 232.4 L492 227.7 L492.5 224.1 L493 221.5 L493.5 219.5 L494 218.2 L494.5 218.3 L495 219.5 L495.5 221.5 L496 225.8 L496.5 231 L497 236.4 L497.5 242.4 L498 249.2 L498.5 256.9 L499 264.7 L499.5 272.5 L500 280.2 L500.5 287.6 L501 294.9 L501.5 302.3 L502 308.3 L502.5 313.3 L503 317.8 L503.5 321.9 L504 323.9 L504.5 324.9 L505 325.5 L505.5 325.9 L506 326.2 L506.5 326.4 L507 326.5 L507.5 326.6 L508 326.6 L508.5 326.7 L509 326.7 L509.5 326.7 L510 326.7 L510.5 326.8 L511 326.8 L511.5 326.8 L512 326.8 L512.5 326.8 L513 326.8 L513.5 326.8 L514 326.8 L514.5 326.8 L515 326.9 L515.5 326.9 L516 326.9 L516.5 326.9 L517 326.9 L517.5 326.9 L518 326.9 L518.5 326.9 L519 326.9 L519.5 326.9 L520 326.9 L520.5 326.9 L521 326.9" stroke="#8b008b" stroke-width="1.3"/>
<path d="M73 317.8 L73.4 314.6 L73.8 315.3 L74.2 314.3 L74.6 315.1 L75 316.2 L75.4 313 L75.8 312 L76.2 316.6 L76.6 315.8 L77 314.9 L77.4 317 L77.8 317 L78.2 313 L78.6 315.5 L79 317.2 L79.4 314.8 L79.8 315.3 L80.2 317 L80.6 315.4 L81 314.2 L81.4 314.8 L81.8 314 L82.2 316.4 L82.6 313.5 L83 317 L83.4 313.6 L83.8 315.8 L84.2 313.8 L84.6 315.3 L85 317 L85.4 317.2 L85.8 317.4 L86.2 315.6 L86.6 315.8 L87 316 L87.4 316.4 L87.8 315.1 L88.2 317 L88.6 316 L89 317 L89.4 316.1 L89.8 316.3 L90.2 314.4 L90.6 314.8 L91 313.6 L91.4 314.8 L91.8 314.9 L92.2 316.2 L92.6 313.4 L93 319.2 L93.4 311.6 L93.8 316.5 L94.2 316.2 L94.6 311.5 L95 314.4 L95.4 316.6 L95.8 309.4 L96.2 315.6 L96.6 313.3 L97 313.9 L97.4 314.7 L97.8 311.9 L98.2 314.6 L98.6 313.4 L99 313.2 L99.4 315.1 L99.8 318.6 L100.2 314.5 L100.6 314.7 L101 313.8 L101.4 312.9 L101.8 314.1 L102.2 315.7 L102.6 313.9 L103 314.8 L103.4 313.2 L103.8 316.8 L104.2 311.3 L104.6 314.1 L105 314 L105.4 313.6 L105.8 311.7 L106.2 311.6 L106.6 312.1 L107 313.1 L107.4 311.3 L107.8 311.4 L108.2 313.5 L108.6 314 L109 312.9 L109.4 311.6 L109.8 311.5 L110.2 315.6 L110.6 313 L111 312.2 L111.4 313.5 L111.8 315.1 L112.2 313.6 L112.6 310.2 L113 311.8 L113.4 311.4 L113.8 311.4 L114.2 310.2 L114.6 311.2 L115 310.2 L115.4 309.3 L115.8 311.5 L116.2 309.6 L116.6 309.1 L117 310.6 L117.4 312 L117.8 311.8 L118.2 311 L118.6 306.7 L119 310.3 L119.4 311.8 L119.8 310.3 L120.2 309.1 L120.6 310.9 L121 309.7 L121.4 314 L121.8 311.3 L122.2 310.1 L122.6 310.2 L123 310 L123.4 310.3 L123.8 309.5 L124.2 309.9 L124.6 311.2 L125 310.9 L125.4 310.1 L125.8 311.4 L126.2 309.9 L126.6 308.2 L127 307.1 L127.4 308.4 L127.8 309.2 L128.2 309.7 L128.6 310.5 L129 308.3 L129.4 307.9 L129.8 309.9 L130.2 310.3 L130.6 308.1 L131 309.1 L131.4 310.3 L131.8 308.9 L132.2 308.3 L132.6 305.6 L133 307.8 L133.4 309 L133.8 308.2 L134.2 307.3 L134.6 306.2 L135 307.6 L135.4 307.5 L135.8 309 L136.2 305.8 L136.6 309.2 L137 307.3 L137.4 308.7 L137.8 305.8 L138.2 307.4 L138.6 308.4 L139 306.8 L139.4 304.7 L139.8 306 L140.2 308.6 L140.6 304.4 L141 304.2 L141.4 306.3 L141.8 304.6 L142.2 306.6 L142.6 304.1 L143 303.1 L143.4 304.4 L143.8 307.2 L144.2 304 L144.6 305 L145 305.2 L145.4 303.5 L145.8 306.1 L146.2 304.7 L146.6 305 L147 302.1 L147.4 301.8 L147.8 300.4 L148.2 303.6 L148.6 303.4 L149 304.6 L149.4 305.4 L149.8 303 L150.2 302.9 L150.6 306.7 L151 305 L151.4 301.8 L151.8 303.6 L152.2 302.3 L152.6 302 L153 303.4 L153.4 301.2 L153.8 300.7 L154.2 302.8 L154.6 301.8 L155 300 L155.4 301.4 L155.8 302 L156.2 300.8 L156.6 302.1 L157 301.5 L157.4 302.7 L157.8 302.3 L158.2 301.6 L158.6 300.1 L159 300.3 L159.4 299.2 L159.8 303.5 L160.2 299.4 L160.6 300.2 L161 301.1 L161.4 297.3 L161.8 297.8 L162.2 298.2 L162.6 297.2 L163 296.6 L163.4 297.4 L163.8 300.5 L164.2 298.5 L164.6 297.4 L165 297.2 L165.4 294.8 L165.8 297.6 L166.2 297 L166.6 294.8 L167 296.2 L167.4 295.5 L167.8 294.8 L168.2 294 L168.6 294.2 L169 293.6 L169.4 295.2 L169.8 294.8 L170.2 294.6 L170.6 293.7 L171 293.2 L171.4 296.2 L171.8 290.9 L172.2 294.6 L172.6 293.3 L173 292.7 L173.4 291.8 L173.8 291.9 L174.2 290.4 L174.6 290 L175 291.4 L175.4 289.2 L175.8 292.2 L176.2 292.4 L176.6 286.2 L177 288.5 L177.4 290.6 L177.8 290.3 L178.2 290 L178.6 290.2 L179 290.4 L179.4 290.4 L179.8 291.4 L180.2 288.8 L180.6 289.8 L181 286.4 L181.4 288.1 L181.8 286.5 L182.2 289.7 L182.6 290.7 L183 288.2 L183.4 285.6 L183.8 287 L184.2 286.9 L184.6 287 L185 288 L185.4 287.6 L185.8 282.7 L186.2 287.8 L186.6 285.2 L187 284.9 L187.4 287.3 L187.8 285 L188.2 283.4 L188.6 283.3 L189 285 L189.4 285.9 L189.8 286.5 L190.2 284.2 L190.6 283.7 L191 286.3 L191.4 283.4 L191.8 285.8 L192.2 284.1 L192.6 284 L193 282.3 L193.4 283.8 L193.8 282.7 L194.2 282.3 L194.6 282.9 L195 282.1 L195.4 283.3 L195.8 282.9 L196.2 282.3 L196.6 282.3 L197 282.2 L197.4 284.7 L197.8 282.3 L198.2 281.5 L198.6 281.8 L199 283 L199.4 281.8 L199.8 281.8 L200.2 281.6 L200.6 282.1 L201 282.3 L201.4 282.4 L201.8 279.6 L202.2 280.3 L202.6 278.2 L203 282.6 L203.4 283 L203.8 283.2 L204.2 281.7 L204.6 283 L205 281.4 L205.4 281.3 L205.8 279.5 L206.2 280.5 L206.6 280.8 L207 282.8 L207.4 283.8 L207.8 281.1 L208.2 282.2 L208.6 282.1 L209 280.8 L209.4 279.6 L209.8 281 L210.2 285.1 L210.6 281.7 L211 282 L211.4 282 L211.8 282.1 L212.2 283.1 L212.6 281.4 L213 283.8 L213.4 280.6 L213.8 283 L214.2 283.6 L214.6 282.2 L215 281.3 L215.4 284.3 L215.8 282.8 L216.2 284.9 L216.6 286.8 L217 284.2 L217.4 284.5 L217.8 285.9 L218.2 285.4 L218.6 283.9 L219 285.6 L219.4 286.3 L219.8 286.1 L220.2 286.3 L220.6 286.2 L221 286.5 L221.4 285.7 L221.8 285.3 L222.2 286 L222.6 287 L223 288.4 L223.4 286.5 L223.8 289 L224.2 288.1 L224.6 293.3 L225 288.5 L225.4 288.9 L225.8 293.7 L226.2 292.6 L226.6 288.4 L227 291.8 L227.4 292.9 L227.8 290.5 L228.2 293.3 L228.6 292.1 L229 291.8 L229.4 293 L229.8 293.2 L230.2 292.4 L230.6 297.4 L231 294.3 L231.4 294.2 L231.8 296.7 L232.2 295.8 L232.6 298 L233 296.2 L233.4 297.4 L233.8 297.4 L234.2 297.8 L234.6 297.7 L235 297.9 L235.4 300.8 L235.8 298 L236.2 298.5 L236.6 299.1 L237 300.6 L237.4 300.7 L237.8 301.8 L238.2 299.1 L238.6 301.5 L239 301.3 L239.4 301.5 L239.8 302.4 L240.2 299.9 L240.6 303.1 L241 303.2 L241.4 301.5 L241.8 303.5 L242.2 305.9 L242.6 303.7 L243 305.2 L243.4 304.4 L243.8 303.9 L244.2 304.1 L244.6 305 L245 307.5 L245.4 307.1 L245.8 305.4 L246.2 307.8 L246.6 306.6 L247 306.1 L247.4 311.7 L247.8 306.3 L248.2 305.7 L248.6 309.6 L249 305.8 L249.4 309.1 L249.8 306.6 L250.2 308.8 L250.6 308.8 L251 308.7 L251.4 306.6 L251.8 309.5 L252.2 309.8 L252.6 308.9 L253 310.1 L253.4 311.7 L253.8 309.7 L254.2 311.1 L254.6 309.5 L255 311.6 L255.4 312.1 L255.8 314.6 L256.2 312.8 L256.6 312.3 L257 313.7 L257.4 310.7 L257.8 313.5 L258.2 311.5 L258.6 311.6 L259 313.9 L259.4 312.9 L259.8 314.4 L260.2 310.9 L260.6 313.2 L261 312.3 L261.4 310.4 L261.8 310.7 L262.2 314.5 L262.6 313.6 L263 312.2 L263.4 311.8 L263.8 312.4 L264.2 315.4 L264.6 313.5 L265 313.3 L265.4 314.4 L265.8 316.4 L266.2 314.1 L266.6 314.8 L267 312.3 L267.4 315.1 L267.8 312.5 L268.2 314.1 L268.6 313.6 L269 314.2 L269.4 314 L269.8 313.6 L270.2 313.7 L270.6 315.4 L271 311.2 L271.4 312.6 L271.8 315 L272.2 315.5 L272.6 313.9 L273 314.5 L273.4 313.3 L273.8 314.1 L274.2 315.8 L274.6 315.4 L275 314.6 L275.4 314.1 L275.8 312.4 L276.2 314.9 L276.6 315.1 L277 315.9 L277.4 317.2 L277.8 315.1 L278.2 315.9 L278.6 313.3 L279 316.2 L279.4 315.8 L279.8 316.5 L280.2 315.7 L280.6 315.4 L281 316.7 L281.4 314 L281.8 315.7 L282.2 316.3 L282.6 314 L283 313.5 L283.4 315.6 L283.8 315.2 L284.2 315.8 L284.6 315.9 L285 314.1 L285.4 315.6 L285.8 316.6 L286.2 314.7 L286.6 314.8 L287 313.8 L287.4 316.3 L287.8 317.7 L288.2 313.5 L288.6 316.3 L289 316.4 L289.4 314.6 L289.8 314.9 L290.2 314 L290.6 314.4 L291 314.5 L291.4 316.2 L291.8 315.6 L292.2 316.5 L292.6 315.7 L293 314 L293.4 317.3 L293.8 317 L294.2 314.6 L294.6 317.8 L295 313.3 L295.4 315.8 L295.8 318 L296.2 312.5 L296.6 313.6 L297 316.6 L297.4 315.4 L297.8 314.5 L298.2 317.6 L298.6 316.3 L299 314.1 L299.4 314.9 L299.8 316.8 L300.2 318 L300.6 313.2 L301 316.1 L301.4 315.3 L301.8 313.6 L302.2 315.6 L302.6 313.8 L303 315.2 L303.4 317.9 L303.8 316.5 L304.2 316.9 L304.6 316.6 L305 316.3 L305.4 317.1 L305.8 314.4 L306.2 315.5 L306.6 317 L307 315 L307.4 315.4 L307.8 317.5 L308.2 317.9 L308.6 315.2 L309 314.9 L309.4 316.7 L309.8 316.3 L310.2 315.1 L310.6 313.7 L311 316.7 L311.4 316.1 L311.8 319.7 L312.2 317.7 L312.6 317 L313 317.2 L313.4 319.7 L313.8 317.3 L314.2 315 L314.6 316.4 L315 316 L315.4 315.2 L315.8 316.3 L316.2 316.3 L316.6 315.9 L317 315.3 L317.4 317 L317.8 313.9 L318.2 317 L318.6 316 L319 316.3 L319.4 312.9 L319.8 318.1 L320.2 313.8 L320.6 314.9 L321 316.8 L321.4 315.2 L321.8 315.4 L322.2 313.1 L322.6 315.4 L323 316.2 L323.4 316.8 L323.8 315.6 L324.2 316.2 L324.6 316.5 L325 315.1 L325.4 315 L325.8 318.5 L326.2 314.9 L326.6 317.5 L327 316 L327.4 317.8 L327.8 315.1 L328.2 316.6 L328.6 316.4 L329 315.7 L329.4 316.4 L329.8 315 L330.2 315.9 L330.6 315.4 L331 322.4 L331.4 315.8 L331.8 314.2 L332.2 315.5 L332.6 315.8 L333 314.8 L333.4 317.7 L333.8 316.5 L334.2 317 L334.6 315 L335 315.4 L335.4 317.2 L335.8 314.1 L336.2 316.4 L336.6 316 L337 315.3 L337.4 316 L337.8 314 L338.2 316.2 L338.6 314.3 L339 314.2 L339.4 317.6 L339.8 314.9 L340.2 313.1 L340.6 317 L341 314.7 L341.4 313.6 L341.8 315.6 L342.2 316.8 L342.6 316 L343 317.8 L343.4 315.4 L343.8 316.3 L344.2 310.3 L344.6 315.6 L345 317.4 L345.4 315.4 L345.8 316.8 L346.2 312.8 L346.6 314.8 L347 313.6 L347.4 316.2 L347.8 314.3 L348.2 315.6 L348.6 313.9 L349 317.5 L349.4 313.6 L349.8 315.2 L350.2 318.4 L350.6 315.3 L351 313.9 L351.4 315.7 L351.8 316.2 L352.2 316 L352.6 312.4 L353 315.1 L353.4 312.1 L353.8 317.1 L354.2 314.8 L354.6 314.1 L355 315.4 L355.4 315.2 L355.8 313.2 L356.2 316.4 L356.6 314.2 L357 312.5 L357.4 315.2 L357.8 316 L358.2 315.7 L358.6 314.9 L359 313.3 L359.4 315.2 L359.8 314.2 L360.2 314.9 L360.6 315.6 L361 313.2 L361.4 314.9 L361.8 314.8 L362.2 312.4 L362.6 312.2 L363 310.3 L363.4 313.7 L363.8 314 L364.2 313.3 L364.6 313.4 L365 313.3 L365.4 313.4 L365.8 313.7 L366.2 313.6 L366.6 313.1 L367 312 L367.4 312.6 L367.8 313.5 L368.2 312.5 L368.6 314 L369 312.7 L369.4 312.8 L369.8 312 L370.2 312.3 L370.6 312.6 L371 312.4 L371.4 311.9 L371.8 309.8 L372.2 312.2 L372.6 312.2 L373 312.4 L373.4 312.7 L373.8 311.7 L374.2 310.6 L374.6 311.6 L375 311.3 L375.4 310.9 L375.8 312 L376.2 311.7 L376.6 311 L377 310.9 L377.4 311.1 L377.8 310.2 L378.2 311.2 L378.6 310.7 L379 311.5 L379.4 310.2 L379.8 311 L380.2 310.2 L380.6 310.8 L381 309.9 L381.4 310.4 L381.8 309.9 L382.2 309.7 L382.6 309.8 L383 309.9 L383.4 309.8 L383.8 309.9 L384.2 309.6 L384.6 308.7 L385 309.1 L385.4 308.6 L385.8 308.9 L386.2 308.9 L386.6 308.4 L387 308.4 L387.4 308.4 L387.8 308.3 L388.2 308.4 L388.6 308.1 L389 307.9 L389.4 307.9 L389.8 307.6 L390.2 307.4 L390.6 307.3 L391 307.1 L391.4 307 L391.8 306.8 L392.2 306.7 L392.6 306.5 L393 306.3 L393.4 306.1 L393.8 306 L394.2 305.8 L394.6 305.6 L395 305.4 L395.4 305.3 L395.8 305.1 L396.2 304.9 L396.6 304.7 L397 304.6 L397.4 304.4 L397.8 304.2 L398.2 304 L398.6 303.8 L399 303.6 L399.4 303.4 L399.8 303.2 L400.2 303.1 L400.6 302.9 L401 302.7 L401.4 302.5 L401.8 302.3 L402.2 302" stroke="#ff0000" stroke-width="0.6" opacity="0.8"/>
<path d="M73 315.3 L73.5 316.6 L74 315.1 L74.5 316.1 L75 315.9 L75.5 316.4 L76 316 L76.5 316.7 L77 314.5 L77.5 316.3 L78 316 L78.5 316.9 L79 315.4 L79.5 316.4 L80 316 L80.5 315.9 L81 315.5 L81.5 316 L82 315 L82.5 315.1 L83 316.1 L83.5 315 L84 316.5 L84.5 315.6 L85 315.9 L85.5 315.8 L86 316 L86.5 315.6 L87 315.5 L87.5 315.6 L88 316.2 L88.5 316.2 L89 316.2 L89.5 315.7 L90 315.4 L90.5 314.6 L91 315.7 L91.5 315.7 L92 315 L92.5 315.6 L93 315.7 L93.5 315.1 L94 315.5 L94.5 315 L95 313.9 L95.5 314.5 L96 314.5 L96.5 314.9 L97 314.1 L97.5 314.3 L98 313.9 L98.5 314.3 L99 314.3 L99.5 314.7 L100 314.5 L100.5 314.1 L101 314.1 L101.5 314 L102 313.9 L102.5 314.5 L103 312.4 L103.5 313.5 L104 313.7 L104.5 314 L105 312.8 L105.5 313.5 L106 313.6 L106.5 312.9 L107 312.1 L107.5 312.8 L108 312.3 L108.5 313.1 L109 312.3 L109.5 313.5 L110 312.6 L110.5 312.1 L111 312.1 L111.5 311.7 L112 312.4 L112.5 312.9 L113 311.9 L113.5 312.4 L114 311.4 L114.5 311.9 L115 312.8 L115.5 310.9 L116 312.1 L116.5 312 L117 310.4 L117.5 310.5 L118 310.7 L118.5 311.6 L119 310.8 L119.5 310.8 L120 311.2 L120.5 310.8 L121 310.7 L121.5 310.4 L122 311 L122.5 310 L123 311.1 L123.5 310 L124 309.7 L124.5 310.3 L125 310.1 L125.5 308.8 L126 309.8 L126.5 308.9 L127 309.1 L127.5 309.8 L128 308.9 L128.5 309.4 L129 308.9 L129.5 310 L130 308.9 L130.5 308.2 L131 308.2 L131.5 309.7 L132 308.6 L132.5 308.4 L133 308.8 L133.5 308.3 L134 308.1 L134.5 308.1 L135 307.8 L135.5 307.9 L136 308 L136.5 307.9 L137 307.1 L137.5 306.3 L138 306.7 L138.5 307.1 L139 305.5 L139.5 306.4 L140 306.7 L140.5 306.1 L141 305.6 L141.5 306.9 L142 306.6 L142.5 305.6 L143 306.3 L143.5 306.1 L144 304.7 L144.5 306.5 L145 304.5 L145.5 304.7 L146 304.1 L146.5 304.5 L147 303.7 L147.5 304.2 L148 304.6 L148.5 304 L149 303.6 L149.5 304.3 L150 302.9 L150.5 303.7 L151 302.9 L151.5 303 L152 302.8 L152.5 302.7 L153 302.4 L153.5 301.9 L154 301.8 L154.5 302.1 L155 301.7 L155.5 301 L156 301 L156.5 300.9 L157 301 L157.5 300.9 L158 300.7 L158.5 300.1 L159 300.2 L159.5 299.3 L160 298.4 L160.5 299.6 L161 298.5 L161.5 298.7 L162 298.3 L162.5 298.9 L163 297.7 L163.5 298.2 L164 297.5 L164.5 296.9 L165 296.4 L165.5 297.1 L166 296.8 L166.5 296.7 L167 296.9 L167.5 295.9 L168 295.6 L168.5 295.1 L169 294.9 L169.5 294.4 L170 293.9 L170.5 295 L171 292.8 L171.5 293.6 L172 293.4 L172.5 293 L173 292.2 L173.5 292.3 L174 291.9 L174.5 291.3 L175 291.6 L175.5 291.1 L176 290.8 L176.5 291.1 L177 290 L177.5 290.5 L178 289.7 L178.5 290 L179 289.5 L179.5 289.4 L180 288.5 L180.5 288.4 L181 288.1 L181.5 288.3 L182 288.4 L182.5 288.3 L183 287.3 L183.5 287.3 L184 286.2 L184.5 285.7 L185 286.1 L185.5 286 L186 285.3 L186.5 285 L187 286 L187.5 285.1 L188 284.5 L188.5 286.3 L189 285 L189.5 284.6 L190 284.9 L190.5 284 L191 285 L191.5 283.3 L192 283.2 L192.5 283.6 L193 283.2 L193.5 284.1 L194 282.5 L194.5 282.8 L195 283.1 L195.5 283.1 L196 283.2 L196.5 282.8 L197 283.6 L197.5 282 L198 282.4 L198.5 282.6 L199 282 L199.5 281.9 L200 281.8 L200.5 281.6 L201 281.3 L201.5 281.5 L202 280.9 L202.5 281.8 L203 280.8 L203.5 282.2 L204 282.4 L204.5 282 L205 281.4 L205.5 281.2 L206 282.1 L206.5 281.6 L207 281.9 L207.5 281.3 L208 282.2 L208.5 281.4 L209 281.9 L209.5 281 L210 281.7 L210.5 282.3 L211 281.9 L211.5 282 L212 282.8 L212.5 282.5 L213 283.3 L213.5 281.6 L214 283.3 L214.5 283.4 L215 282.6 L215.5 282.9 L216 284.2 L216.5 283.5 L217 283.9 L217.5 284.8 L218 284.6 L218.5 285.3 L219 284.9 L219.5 285.8 L220 286.5 L220.5 286.5 L221 285.5 L221.5 287.3 L222 287.4 L222.5 287.3 L223 288.8 L223.5 287.7 L224 289.9 L224.5 289.1 L225 290.6 L225.5 290.2 L226 290 L226.5 291.1 L227 291.6 L227.5 292.2 L228 292.8 L228.5 292.3 L229 293.4 L229.5 293.9 L230 293.9 L230.5 294 L231 294.4 L231.5 295.7 L232 296.1 L232.5 295.8 L233 295.9 L233.5 297.6 L234 296.7 L234.5 297.9 L235 297.9 L235.5 297.8 L236 299.2 L236.5 299.4 L237 300.6 L237.5 301.5 L238 300.6 L238.5 301.7 L239 302 L239.5 301.7 L240 301.9 L240.5 304.2 L241 302.9 L241.5 303.4 L242 303.6 L242.5 304.1 L243 304.2 L243.5 305.2 L244 305.8 L244.5 305.3 L245 305.1 L245.5 306.1 L246 305.7 L246.5 306.4 L247 307.6 L247.5 308.5 L248 307.8 L248.5 307.4 L249 308.6 L249.5 307.3 L250 308.4 L250.5 309.7 L251 309.6 L251.5 308.8 L252 308.9 L252.5 310.4 L253 310.2 L253.5 310.2 L254 310.9 L254.5 310.6 L255 310.2 L255.5 311.7 L256 311.2 L256.5 311.2 L257 311.2 L257.5 312.1 L258 311.8 L258.5 312.6 L259 312.3 L259.5 313.1 L260 312.5 L260.5 312.5 L261 312 L261.5 312.6 L262 313.6 L262.5 314.9 L263 312.8 L263.5 313 L264 313.8 L264.5 313.9 L265 313.4 L265.5 313.8 L266 313 L266.5 313.7 L267 314.4 L267.5 314.8 L268 313.9 L268.5 313.9 L269 314.3 L269.5 314.6 L270 314.4 L270.5 313.3 L271 314.4 L271.5 314.7 L272 313.9 L272.5 313.6 L273 314.5 L273.5 314.5 L274 314.8 L274.5 314.4 L275 314.1 L275.5 314.2 L276 314 L276.5 314 L277 313.7 L277.5 314.3 L278 315.2 L278.5 314 L279 314.7 L279.5 314.4 L280 315.5 L280.5 314.9 L281 314.7 L281.5 315.3 L282 314.9 L282.5 314.7 L283 315.7 L283.5 315.4 L284 315.9 L284.5 315.6 L285 315.5 L285.5 315.2 L286 314.6 L286.5 315.5 L287 315.2 L287.5 315.5 L288 315.2 L288.5 314.9 L289 314.8 L289.5 315.6 L290 316 L290.5 315.2 L291 315.6 L291.5 316.1 L292 315 L292.5 315.3 L293 314.9 L293.5 316.1 L294 315.6 L294.5 315.3 L295 314.7 L295.5 315.5 L296 316.1 L296.5 315.4 L297 315.4 L297.5 315.9 L298 315 L298.5 315.7 L299 316 L299.5 315.3 L300 315.3 L300.5 315.9 L301 315.7 L301.5 315.6 L302 315.9 L302.5 315.9 L303 315.3 L303.5 315.5 L304 316 L304.5 316.4 L305 316.5 L305.5 315.4 L306 316.4 L306.5 316.2 L307 315.9 L307.5 316.1 L308 316.3 L308.5 316.8 L309 315.4 L309.5 316.2 L310 315.8 L310.5 315.8 L311 316.5 L311.5 316.3 L312 315.4 L312.5 315.7 L313 316 L313.5 315.2 L314 316.3 L314.5 315.8 L315 316 L315.5 316.1 L316 316.8 L316.5 315.9 L317 315.7 L317.5 316.7 L318 315.6 L318.5 315.6 L319 315.2 L319.5 316.4 L320 316 L320.5 316.1 L321 316 L321.5 315.8 L322 314.7 L322.5 315.5 L323 316.1 L323.5 315.9 L324 316.7 L324.5 315.5 L325 315.6 L325.5 315.4 L326 316.6 L326.5 315.3 L327 316.3 L327.5 316.6 L328 315.8 L328.5 316.2 L329 314.8 L329.5 315.7 L330 314.2 L330.5 316 L331 315.9 L331.5 315.5 L332 316.4 L332.5 315.3 L333 315.6 L333.5 315.6 L334 315.2 L334.5 315.8 L335 316.9 L335.5 315.5 L336 316.1 L336.5 315.7 L337 316.2 L337.5 316 L338 315.7 L338.5 314.9 L339 315.5 L339.5 316.3 L340 315.6 L340.5 316 L341 315.4 L341.5 314.7 L342 315.8 L342.5 315.7 L343 315.2 L343.5 315.3 L344 315.6 L344.5 315.1 L345 315.5 L345.5 315.2 L346 314.1 L346.5 315.2 L347 314.9 L347.5 314.7 L348 315.3 L348.5 314.8 L349 315.3 L349.5 315.6 L350 315 L350.5 314.2 L351 314.5 L351.5 315.3 L352 314.7 L352.5 314.4 L353 314.7 L353.5 314.9 L354 314.8 L354.5 314.9 L355 314.1 L355.5 314.4 L356 314.3 L356.5 314.4 L357 313.3 L357.5 314.2 L358 313.6 L358.5 314.9 L359 314.9 L359.5 314.9 L360 314.4 L360.5 313.7 L361 314.4 L361.5 313.8 L362 314.1 L362.5 313.3 L363 313.4 L363.5 313.8 L364 314.3 L364.5 313.4 L365 314.3 L365.5 314.4 L366 312.6 L366.5 313.1 L367 312.6 L367.5 312.9 L368 312.6 L368.5 312.7 L369 313 L369.5 312.9 L370 312.6 L370.5 312.4 L371 312.4 L371.5 312.3 L372 312.4 L372.5 312.1 L373 312.1 L373.5 311.5 L374 312 L374.5 312.2 L375 311.7 L375.5 311.1 L376 311.8 L376.5 311.2 L377 310.3 L377.5 311 L378 311.1 L378.5 311 L379 311.1 L379.5 310.8 L380 310.5 L380.5 309.9 L381 310 L381.5 310.2 L382 310.1 L382.5 309.6 L383 309.6 L383.5 309.7 L384 309.1 L384.5 308.9 L385 309.1 L385.5 309.1 L386 308.8 L386.5 308.3 L387 308.5 L387.5 308.2 L388 308.3 L388.5 308 L389 307.9 L389.5 307.8 L390 307.5 L390.5 307.4 L391 307.3 L391.5 307 L392 306.9 L392.5 306.5 L393 306.4 L393.5 306.1 L394 305.8 L394.5 305.7 L395 305.4 L395.5 305.2 L396 305 L396.5 304.8 L397 304.5 L397.5 304.3 L398 304.1 L398.5 303.9 L399 303.6 L399.5 303.4 L400 303.1 L400.5 302.9 L401 302.7 L401.5 302.4 L402 302.1" stroke="#ff0000" stroke-width="1.7"/>
<path d="M402 302.1 L402.5 301.9 L403 301.6 L403.5 301.4 L404 301.1 L404.5 300.8 L405 300.5 L405.5 300.2 L406 299.8 L406.5 299.5 L407 299.1 L407.5 298.7 L408 298.4 L408.5 298.1 L409 297.8 L409.5 297.7 L410 297.5 L410.5 297.5 L411 297.4 L411.5 297.3 L412 297.2 L412.5 297.1 L413 297 L413.5 296.9 L414 296.7 L414.5 296.6 L415 296.4 L415.5 296.2 L416 296 L416.5 295.8 L417 295.7 L417.5 295.6 L418 295.4 L418.5 295.3 L419 295.1 L419.5 294.8 L420 294.3 L420.5 293.8 L421 293.1 L421.5 292.3 L422 291.5 L422.5 290.6 L423 289.6 L423.5 288.5 L424 287.3 L424.5 286.1 L425 284.8 L425.5 283.4 L426 282 L426.5 280.4 L427 278.7 L427.5 276.9 L428 275.2 L428.5 273.5 L429 271.8 L429.5 270.1 L430 268.4 L430.5 266.6 L431 265 L431.5 263.3 L432 261.6 L432.5 259.9 L433 258.2 L433.5 256.7 L434 255.5 L434.5 254.4 L435 253.4 L435.5 252.6 L436 252.1 L436.5 252.3 L437 253.6 L437.5 255.4 L438 257.3 L438.5 259.6 L439 262.3 L439.5 264.9 L440 267.2 L440.5 269.4 L441 271.6 L441.5 273.6 L442 275.6 L442.5 277.5 L443 279.4 L443.5 281.1 L444 282.6 L444.5 284 L445 285.4 L445.5 286.6 L446 287.7 L446.5 288.9 L447 290 L447.5 290.7 L448 290.8 L448.5 290.8 L449 290.8 L449.5 290.8 L450 290.8 L450.5 290.8 L451 290.8 L451.5 290.5 L452 289.9 L452.5 289.4 L453 289 L453.5 288.7 L454 288.4 L454.5 288.3 L455 288.2 L455.5 288.6 L456 289.5 L456.5 290.5 L457 291.5 L457.5 292.6 L458 293.8 L458.5 295 L459 295.9 L459.5 296.6 L460 297.1 L460.5 297.6 L461 298 L461.5 298.3 L462 298.6 L462.5 298.9 L463 299 L463.5 298.9 L464 298.6 L464.5 298.3 L465 298.2 L465.5 298.2 L466 298.2 L466.5 298.3 L467 298.4 L467.5 298.7 L468 299.5 L468.5 300.5 L469 301.5 L469.5 302.5 L470 303.5 L470.5 304.5 L471 305 L471.5 305 L472 304.5 L472.5 303.9 L473 303.3 L473.5 302.9 L474 302.5 L474.5 302.2 L475 302 L475.5 302.1 L476 303.1 L476.5 304.6 L477 306.1 L477.5 307.5 L478 309.2 L478.5 310.9 L479 312.9 L479.5 314.9 L480 316.7 L480.5 318.7 L481 320.3 L481.5 320.8 L482 320.5 L482.5 320 L483 319.4 L483.5 318.7 L484 318 L484.5 317.2 L485 316.3 L485.5 315.3 L486 314.2 L486.5 312.9 L487 311.8 L487.5 311.1 L488 310.4 L488.5 309.9 L489 309.8 L489.5 310.2 L490 311.1 L490.5 312.1 L491 313.1 L491.5 314.3 L492 315.7 L492.5 317 L493 318.4 L493.5 319.7 L494 321 L494.5 322.2 L495 323.3 L495.5 324.3 L496 324.8 L496.5 325.2 L497 325.6 L497.5 325.8 L498 326 L498.5 326.1 L499 326.2 L499.5 326.3 L500 326.4 L500.5 326.5 L501 326.5 L501.5 326.6 L502 326.6 L502.5 326.7 L503 326.8 L503.5 326.8 L504 326.9 L504.5 326.9 L505 326.9 L505.5 327 L506 327 L506.5 327 L507 327 L507.5 327 L508 327 L508.5 327 L509 327 L509.5 327 L510 327 L510.5 327 L511 327 L511.5 327 L512 327 L512.5 327 L513 327 L513.5 327 L514 327 L514.5 327 L515 327 L515.5 327 L516 327 L516.5 327 L517 327 L517.5 327 L518 327 L518.5 327 L519 327 L519.5 327 L520 327 L520.5 327 L521 327" stroke="#ff0000" stroke-width="1.3"/>
<path d="M73 323.2 L73.4 325.1 L73.8 324 L74.2 324.8 L74.6 325 L75 322.2 L75.4 323.9 L75.8 325.6 L76.2 324.1 L76.6 325.1 L77 324.5 L77.4 323 L77.8 324.3 L78.2 325.1 L78.6 325.3 L79 325.4 L79.4 322.9 L79.8 324.8 L80.2 322.6 L80.6 323.8 L81 323.7 L81.4 324.5 L81.8 324.2 L82.2 325.1 L82.6 323.2 L83 324.6 L83.4 324.2 L83.8 323.8 L84.2 322.6 L84.6 324.3 L85 324 L85.4 324.5 L85.8 323.7 L86.2 323.4 L86.6 324 L87 324.1 L87.4 324.3 L87.8 325.5 L88.2 323 L88.6 325.5 L89 320.6 L89.4 324.5 L89.8 322.7 L90.2 325.5 L90.6 322.6 L91 324.5 L91.4 322.5 L91.8 322.3 L92.2 324.2 L92.6 324.2 L93 322.7 L93.4 325.7 L93.8 323 L94.2 324.8 L94.6 322.3 L95 322.3 L95.4 323.3 L95.8 322.2 L96.2 323.7 L96.6 321.1 L97 323.4 L97.4 322.6 L97.8 322.2 L98.2 321.9 L98.6 322.9 L99 322.7 L99.4 323.7 L99.8 323.4 L100.2 323.4 L100.6 324.3 L101 322.9 L101.4 323.8 L101.8 322.6 L102.2 323.5 L102.6 323.4 L103 322.4 L103.4 321.4 L103.8 321.6 L104.2 321.9 L104.6 323.4 L105 322.7 L105.4 322.5 L105.8 323.2 L106.2 323.5 L106.6 324.1 L107 322.1 L107.4 323.2 L107.8 323.3 L108.2 321.7 L108.6 322.7 L109 321.7 L109.4 322.3 L109.8 323.5 L110.2 320.8 L110.6 321.6 L111 321.6 L111.4 322.5 L111.8 321.6 L112.2 322.7 L112.6 321.4 L113 321.7 L113.4 322.8 L113.8 322.5 L114.2 322.3 L114.6 322.1 L115 321.2 L115.4 323.4 L115.8 321.6 L116.2 321.2 L116.6 320.9 L117 323.6 L117.4 320.9 L117.8 320.5 L118.2 322 L118.6 322.7 L119 320.4 L119.4 321.9 L119.8 317.9 L120.2 320.8 L120.6 323 L121 321.6 L121.4 321.1 L121.8 321.4 L122.2 321.6 L122.6 321.1 L123 320 L123.4 320 L123.8 323.1 L124.2 320.3 L124.6 322.2 L125 320.3 L125.4 322.2 L125.8 321.6 L126.2 321.7 L126.6 322.8 L127 319.8 L127.4 320.5 L127.8 319.8 L128.2 319.9 L128.6 320.2 L129 319.6 L129.4 318.7 L129.8 322 L130.2 318.7 L130.6 319.1 L131 319.4 L131.4 319.8 L131.8 321.2 L132.2 320.9 L132.6 320.6 L133 320.3 L133.4 322.4 L133.8 318.8 L134.2 318.8 L134.6 319.8 L135 320 L135.4 319.1 L135.8 318.9 L136.2 320.6 L136.6 319.3 L137 318.8 L137.4 319 L137.8 318.4 L138.2 320.7 L138.6 319.7 L139 321.1 L139.4 318.3 L139.8 319.2 L140.2 318.8 L140.6 319 L141 318.7 L141.4 318.7 L141.8 316.9 L142.2 318.5 L142.6 319.4 L143 316.7 L143.4 318.2 L143.8 319.1 L144.2 319.7 L144.6 318.3 L145 318.8 L145.4 320 L145.8 319.5 L146.2 317.7 L146.6 317.5 L147 319 L147.4 318.2 L147.8 317.3 L148.2 316.1 L148.6 318.1 L149 317.5 L149.4 317.4 L149.8 317.3 L150.2 316 L150.6 319.1 L151 318.6 L151.4 318.8 L151.8 317.1 L152.2 317.3 L152.6 317.7 L153 317.8 L153.4 315.2 L153.8 317.3 L154.2 315.9 L154.6 316.7 L155 316.1 L155.4 318.3 L155.8 317.1 L156.2 316.5 L156.6 317.8 L157 316.3 L157.4 315.6 L157.8 316 L158.2 315.8 L158.6 316.1 L159 316.8 L159.4 315.8 L159.8 315.8 L160.2 316.8 L160.6 316 L161 316.5 L161.4 315.7 L161.8 314.2 L162.2 314.3 L162.6 313.6 L163 316.3 L163.4 315.5 L163.8 314.5 L164.2 313.9 L164.6 315.2 L165 314.6 L165.4 315 L165.8 313.7 L166.2 313.4 L166.6 315.9 L167 313.3 L167.4 314.2 L167.8 315.4 L168.2 312.2 L168.6 314.6 L169 313.9 L169.4 313.6 L169.8 313.9 L170.2 312.4 L170.6 311.2 L171 315.2 L171.4 313 L171.8 314 L172.2 314.1 L172.6 313.2 L173 313.3 L173.4 315.1 L173.8 314.2 L174.2 313.1 L174.6 313.7 L175 312.1 L175.4 311.9 L175.8 312.3 L176.2 310.7 L176.6 312.6 L177 313.8 L177.4 312.7 L177.8 311.8 L178.2 313.6 L178.6 311.9 L179 311.8 L179.4 311.9 L179.8 311 L180.2 310.1 L180.6 311.2 L181 310.7 L181.4 310 L181.8 310.9 L182.2 310.5 L182.6 310 L183 308.8 L183.4 310.2 L183.8 312 L184.2 311.1 L184.6 311.2 L185 307.9 L185.4 310.9 L185.8 309.1 L186.2 309.2 L186.6 310.1 L187 309.9 L187.4 309.4 L187.8 309.6 L188.2 310.8 L188.6 308.4 L189 309.3 L189.4 308.2 L189.8 308.2 L190.2 306 L190.6 307.6 L191 309.5 L191.4 308.8 L191.8 308.3 L192.2 310.4 L192.6 308.5 L193 306.6 L193.4 307.5 L193.8 307.6 L194.2 309.1 L194.6 306.5 L195 307.7 L195.4 306.4 L195.8 306.3 L196.2 307.1 L196.6 304.9 L197 306.9 L197.4 304.6 L197.8 306.2 L198.2 308.2 L198.6 306.8 L199 306.4 L199.4 306.4 L199.8 308.2 L200.2 306.6 L200.6 306.9 L201 305.4 L201.4 305.3 L201.8 303.6 L202.2 305.4 L202.6 304.8 L203 306.4 L203.4 307 L203.8 305.1 L204.2 304.6 L204.6 302.3 L205 304.4 L205.4 305.2 L205.8 305.5 L206.2 300.4 L206.6 302.4 L207 304.8 L207.4 303.6 L207.8 304.3 L208.2 304 L208.6 304.5 L209 302.5 L209.4 303.7 L209.8 305.1 L210.2 306.5 L210.6 303.3 L211 304.5 L211.4 304.3 L211.8 303.1 L212.2 304.5 L212.6 304.5 L213 303.6 L213.4 304.6 L213.8 302.5 L214.2 304.4 L214.6 303.4 L215 302.6 L215.4 302.9 L215.8 304.5 L216.2 302.8 L216.6 303 L217 302.6 L217.4 302.4 L217.8 304.1 L218.2 305.2 L218.6 304.3 L219 303.5 L219.4 303.7 L219.8 302.5 L220.2 302.3 L220.6 301.6 L221 304.1 L221.4 302.4 L221.8 302 L222.2 304.4 L222.6 302.8 L223 302.6 L223.4 302.6 L223.8 302.7 L224.2 303.8 L224.6 301.3 L225 302.8 L225.4 301.8 L225.8 302.1 L226.2 304.1 L226.6 303.1 L227 302.1 L227.4 301.2 L227.8 302.5 L228.2 303.6 L228.6 302.1 L229 303.1 L229.4 302.4 L229.8 302.6 L230.2 302.5 L230.6 302 L231 302.7 L231.4 303.3 L231.8 302.1 L232.2 302.3 L232.6 303 L233 302 L233.4 303.5 L233.8 303.4 L234.2 300.5 L234.6 302.1 L235 301.7 L235.4 303.5 L235.8 303.6 L236.2 301.5 L236.6 302 L237 302.6 L237.4 302.3 L237.8 303.4 L238.2 303.6 L238.6 303.3 L239 303.7 L239.4 303.6 L239.8 302.6 L240.2 302.2 L240.6 301.9 L241 303.4 L241.4 303.5 L241.8 303.6 L242.2 302.3 L242.6 302.2 L243 302.8 L243.4 303.8 L243.8 302.9 L244.2 302.8 L244.6 301.7 L245 302.9 L245.4 303 L245.8 301.5 L246.2 304.1 L246.6 301.5 L247 303.3 L247.4 302.1 L247.8 302.4 L248.2 301.4 L248.6 301.6 L249 302.8 L249.4 301.8 L249.8 301.6 L250.2 302.8 L250.6 302.6 L251 302 L251.4 302 L251.8 303.4 L252.2 301.5 L252.6 302 L253 302.1 L253.4 300.3 L253.8 299.7 L254.2 301.7 L254.6 302.4 L255 301.7 L255.4 301 L255.8 300.9 L256.2 302.3 L256.6 301.2 L257 299.9 L257.4 302.1 L257.8 301.6 L258.2 301.7 L258.6 302.4 L259 302.6 L259.4 301.8 L259.8 301.1 L260.2 299.1 L260.6 301.4 L261 300.9 L261.4 302.2 L261.8 302 L262.2 301 L262.6 300.9 L263 300.2 L263.4 300 L263.8 299.1 L264.2 299.5 L264.6 299.8 L265 300.5 L265.4 298.7 L265.8 300.1 L266.2 301.5 L266.6 297.8 L267 298.7 L267.4 298.9 L267.8 299.8 L268.2 300.6 L268.6 299.8 L269 296.3 L269.4 297.7 L269.8 298.5 L270.2 298.5 L270.6 298.8 L271 297.7 L271.4 300.1 L271.8 298 L272.2 299.5 L272.6 300.6 L273 298.4 L273.4 299.2 L273.8 299.2 L274.2 299.1 L274.6 300.2 L275 299.1 L275.4 302.1 L275.8 300.9 L276.2 299 L276.6 297.5 L277 301.2 L277.4 300.3 L277.8 300.2 L278.2 299.2 L278.6 298.9 L279 298.5 L279.4 302.9 L279.8 302 L280.2 299.9 L280.6 302.4 L281 298.8 L281.4 301.3 L281.8 301.4 L282.2 299.9 L282.6 300.3 L283 299.8 L283.4 300.1 L283.8 302.2 L284.2 301.9 L284.6 301.4 L285 302.1 L285.4 299.3 L285.8 303.1 L286.2 301.1 L286.6 299.9 L287 300.8 L287.4 300.6 L287.8 301.4 L288.2 301.6 L288.6 299.1 L289 302.6 L289.4 303.1 L289.8 300.4 L290.2 302.9 L290.6 302.7 L291 302.5 L291.4 303.6 L291.8 300.2 L292.2 302.3 L292.6 300.7 L293 304 L293.4 300.8 L293.8 300.5 L294.2 302.9 L294.6 302.4 L295 301.3 L295.4 302 L295.8 302.5 L296.2 303.6 L296.6 301.3 L297 301.4 L297.4 301.4 L297.8 302 L298.2 302.1 L298.6 300.8 L299 302.4 L299.4 300.9 L299.8 301.9 L300.2 302 L300.6 302 L301 302.1 L301.4 304 L301.8 303.4 L302.2 304 L302.6 302.2 L303 303.9 L303.4 302.5 L303.8 302.8 L304.2 302.9 L304.6 299.1 L305 302.1 L305.4 302.6 L305.8 303.2 L306.2 302.7 L306.6 302 L307 301.8 L307.4 303 L307.8 301.8 L308.2 301.9 L308.6 303 L309 303.2 L309.4 302.3 L309.8 301.4 L310.2 303.5 L310.6 304 L311 302.9 L311.4 302.9 L311.8 301 L312.2 304.2 L312.6 302.3 L313 304.1 L313.4 302.8 L313.8 303.2 L314.2 303.2 L314.6 301.6 L315 306.1 L315.4 301.8 L315.8 303.5 L316.2 302.5 L316.6 303.1 L317 304.6 L317.4 301.4 L317.8 299 L318.2 303.6 L318.6 303.2 L319 303.4 L319.4 302.2 L319.8 301.4 L320.2 301.4 L320.6 302.1 L321 303.1 L321.4 302.3 L321.8 303.6 L322.2 302 L322.6 302 L323 301.9 L323.4 300 L323.8 302.3 L324.2 300.7 L324.6 301.5 L325 304.4 L325.4 301 L325.8 302.6 L326.2 302.9 L326.6 303 L327 303.1 L327.4 302.7 L327.8 305.4 L328.2 301.6 L328.6 302.7 L329 305.3 L329.4 304.6 L329.8 303.4 L330.2 303.4 L330.6 304.2 L331 307.2 L331.4 305.2 L331.8 303.9 L332.2 305.2 L332.6 304.5 L333 306.7 L333.4 305.6 L333.8 306.6 L334.2 305.5 L334.6 307.4 L335 305.8 L335.4 305.7 L335.8 304.4 L336.2 305 L336.6 305.8 L337 304.9 L337.4 307.8 L337.8 305.4 L338.2 304.6 L338.6 306.3 L339 304.8 L339.4 305.8 L339.8 305.3 L340.2 304.6 L340.6 306.7 L341 305.4 L341.4 306.4 L341.8 305 L342.2 303.9 L342.6 304.1 L343 304.8 L343.4 305.1 L343.8 305.3 L344.2 305.7 L344.6 303.9 L345 306.1 L345.4 303.9 L345.8 304.4 L346.2 307.6 L346.6 306.3 L347 304.6 L347.4 306.7 L347.8 306.3 L348.2 305.7 L348.6 306.3 L349 304.5 L349.4 304.6 L349.8 303.8 L350.2 305.2 L350.6 303.4 L351 304 L351.4 304.9 L351.8 303.9 L352.2 306.8 L352.6 306.1 L353 303.3 L353.4 305.6 L353.8 303.5 L354.2 303.2 L354.6 301.2 L355 304.9 L355.4 303.3 L355.8 303.2 L356.2 303.4 L356.6 303.1 L357 303.8 L357.4 303 L357.8 303.3 L358.2 303.7 L358.6 303 L359 304.2 L359.4 302.7 L359.8 302.6 L360.2 304.7 L360.6 304.2 L361 303 L361.4 303.5 L361.8 302.6 L362.2 302.4 L362.6 301.8 L363 300.7 L363.4 303.4 L363.8 301.2 L364.2 302.9 L364.6 302.4 L365 301.7 L365.4 301.8 L365.8 300.1 L366.2 301.1 L366.6 301.7 L367 302.2 L367.4 300.7 L367.8 300.7 L368.2 300 L368.6 301 L369 301.4 L369.4 301 L369.8 300.9 L370.2 300.1 L370.6 300.8 L371 299.9 L371.4 300.8 L371.8 300 L372.2 299.4 L372.6 300.1 L373 298.9 L373.4 299.3 L373.8 298.6 L374.2 298.2 L374.6 298.4 L375 297.8 L375.4 297.3 L375.8 296.9 L376.2 296.7 L376.6 296.3 L377 295.7 L377.4 295.1 L377.8 294.2 L378.2 294.7 L378.6 294.3 L379 294.3 L379.4 293.7 L379.8 293.6 L380.2 293.4 L380.6 292.5 L381 291.9 L381.4 292 L381.8 291.2 L382.2 290.9 L382.6 291 L383 290.4 L383.4 290.2 L383.8 289.3 L384.2 289.3 L384.6 289.1 L385 288.4 L385.4 288.3 L385.8 288 L386.2 287.3 L386.6 287.5 L387 286.9 L387.4 286.7 L387.8 286.6 L388.2 286 L388.6 285.9 L389 285.6 L389.4 285.4 L389.8 285.1 L390.2 285 L390.6 284.6 L391 284.5 L391.4 284.3 L391.8 284.1 L392.2 283.9 L392.6 283.8 L393 283.6 L393.4 283.5 L393.8 283.3 L394.2 283.1 L394.6 282.9 L395 282.5 L395.4 282.1 L395.8 281.7 L396.2 281.2 L396.6 280.6 L397 280 L397.4 279.4 L397.8 278.8 L398.2 278.2 L398.6 277.6 L399 276.9 L399.4 276.2 L399.8 275.5 L400.2 274.7 L400.6 273.9 L401 273.1 L401.4 272.2 L401.8 271.3 L402.2 270.4" stroke="#0000ff" stroke-width="0.6" opacity="0.8"/>
<path d="M73 323.8 L73.5 323.7 L74 323.9 L74.5 324.3 L75 323.9 L75.5 323.4 L76 324.3 L76.5 324 L77 324 L77.5 323.8 L78 323.2 L78.5 324.6 L79 323.8 L79.5 324.2 L80 324.5 L80.5 324.4 L81 324 L81.5 323.9 L82 324 L82.5 324.2 L83 324 L83.5 323.6 L84 323.9 L84.5 323.9 L85 324 L85.5 323.8 L86 324.2 L86.5 323.7 L87 324 L87.5 323.6 L88 323.4 L88.5 323.4 L89 323.5 L89.5 323.7 L90 324 L90.5 323.4 L91 323.3 L91.5 323.2 L92 323.9 L92.5 323.4 L93 323.2 L93.5 323.6 L94 322.8 L94.5 323.3 L95 323.3 L95.5 323.2 L96 322.8 L96.5 323.6 L97 323.8 L97.5 322.7 L98 323.2 L98.5 323.4 L99 324 L99.5 322.9 L100 322.7 L100.5 323 L101 323.8 L101.5 323 L102 323.1 L102.5 323.6 L103 322.1 L103.5 322 L104 323.2 L104.5 323.1 L105 322.3 L105.5 323 L106 322.8 L106.5 322.8 L107 322.4 L107.5 322.5 L108 322.3 L108.5 322.6 L109 322.5 L109.5 323.2 L110 322.7 L110.5 321.9 L111 322.6 L111.5 322.9 L112 322.5 L112.5 322.7 L113 322.2 L113.5 322.5 L114 321.8 L114.5 322.4 L115 321.5 L115.5 322.5 L116 321.4 L116.5 321.1 L117 322.1 L117.5 321.7 L118 321.8 L118.5 321.9 L119 321.6 L119.5 321.2 L120 321.6 L120.5 321.6 L121 321.6 L121.5 322.1 L122 321 L122.5 321.3 L123 321.4 L123.5 321 L124 320.6 L124.5 320.8 L125 321.4 L125.5 320.8 L126 321.1 L126.5 321.3 L127 320.9 L127.5 320.4 L128 320.3 L128.5 320.6 L129 320.6 L129.5 321 L130 319.8 L130.5 320.6 L131 320.9 L131.5 320.8 L132 320 L132.5 319.9 L133 319.9 L133.5 320.1 L134 320 L134.5 320.3 L135 320 L135.5 319.3 L136 319.2 L136.5 319.1 L137 319 L137.5 319.4 L138 319.5 L138.5 320.3 L139 319.5 L139.5 319.2 L140 319.6 L140.5 318.7 L141 319.1 L141.5 319.2 L142 319.1 L142.5 318.9 L143 318.5 L143.5 318.1 L144 318.4 L144.5 318.2 L145 318.6 L145.5 318.2 L146 318.4 L146.5 317.5 L147 318.4 L147.5 317.6 L148 317.2 L148.5 317.2 L149 317.4 L149.5 318 L150 317.8 L150.5 317 L151 317.4 L151.5 317.2 L152 316.6 L152.5 316.7 L153 316.2 L153.5 316.6 L154 315.8 L154.5 316.5 L155 316.3 L155.5 316.3 L156 316.2 L156.5 316.9 L157 316.2 L157.5 316.4 L158 316.5 L158.5 316.4 L159 316.3 L159.5 315.7 L160 315.4 L160.5 315.4 L161 315.4 L161.5 315.5 L162 315.4 L162.5 315.7 L163 315.1 L163.5 315.8 L164 315.4 L164.5 314.7 L165 315.1 L165.5 313.5 L166 315 L166.5 314.6 L167 314.4 L167.5 313.5 L168 315 L168.5 313.8 L169 313.7 L169.5 314.1 L170 313.5 L170.5 313.1 L171 313.6 L171.5 312.8 L172 313.4 L172.5 313 L173 313.3 L173.5 312.3 L174 313.1 L174.5 312.6 L175 313.2 L175.5 312 L176 312.9 L176.5 312.3 L177 312.2 L177.5 311.5 L178 311.9 L178.5 311.8 L179 311.1 L179.5 310.9 L180 310.9 L180.5 311.7 L181 311.1 L181.5 311.2 L182 310.9 L182.5 310.7 L183 310.6 L183.5 310.2 L184 310.7 L184.5 310.2 L185 309.4 L185.5 309.3 L186 309.9 L186.5 309.3 L187 309.3 L187.5 309.7 L188 308.8 L188.5 309 L189 309.2 L189.5 309.2 L190 308.4 L190.5 308.6 L191 308.5 L191.5 307.8 L192 307.3 L192.5 307.2 L193 308.1 L193.5 308.4 L194 307 L194.5 307.2 L195 307.1 L195.5 307 L196 307 L196.5 307.8 L197 306.5 L197.5 306.7 L198 306.3 L198.5 306.2 L199 306 L199.5 306.1 L200 305.9 L200.5 306.1 L201 305.9 L201.5 305.4 L202 306.4 L202.5 305 L203 305.5 L203.5 306.1 L204 304.9 L204.5 305.6 L205 305.6 L205.5 305 L206 304.1 L206.5 305.3 L207 304.7 L207.5 304.4 L208 305 L208.5 304.1 L209 304.7 L209.5 304 L210 304.4 L210.5 303.7 L211 303.9 L211.5 303.6 L212 303.6 L212.5 303.9 L213 303.7 L213.5 303.8 L214 304.1 L214.5 303.5 L215 302.8 L215.5 303.3 L216 303.4 L216.5 303.7 L217 303.6 L217.5 303.5 L218 303 L218.5 303.3 L219 302.4 L219.5 303.4 L220 303.4 L220.5 303 L221 302.6 L221.5 302.7 L222 302.4 L222.5 302.8 L223 302 L223.5 302.9 L224 302.7 L224.5 303.3 L225 302.5 L225.5 302.5 L226 302.6 L226.5 302.5 L227 302.5 L227.5 302.1 L228 302.1 L228.5 302.3 L229 302.5 L229.5 302.1 L230 302.1 L230.5 302.5 L231 302.9 L231.5 302.6 L232 302.9 L232.5 303 L233 303 L233.5 302.5 L234 302.5 L234.5 302 L235 302.4 L235.5 302.9 L236 302.3 L236.5 303.2 L237 303.2 L237.5 302.5 L238 303 L238.5 302.1 L239 302.3 L239.5 302.5 L240 302.6 L240.5 302.6 L241 302.3 L241.5 303.4 L242 302.7 L242.5 302.7 L243 302.8 L243.5 302.6 L244 302.4 L244.5 302.3 L245 301.9 L245.5 303.1 L246 302.1 L246.5 301.7 L247 302 L247.5 301.7 L248 303 L248.5 302.3 L249 302.6 L249.5 302.6 L250 302.1 L250.5 302.1 L251 301.5 L251.5 301.7 L252 301.5 L252.5 301.7 L253 301.4 L253.5 302.1 L254 301.9 L254.5 301.5 L255 301 L255.5 301.8 L256 301.8 L256.5 301.4 L257 300.9 L257.5 302 L258 301.8 L258.5 300.6 L259 301.5 L259.5 300.5 L260 301.2 L260.5 301.8 L261 301 L261.5 301 L262 300.5 L262.5 300.4 L263 301.1 L263.5 300.5 L264 299.7 L264.5 299.5 L265 299.5 L265.5 300.2 L266 299.3 L266.5 299.5 L267 298.8 L267.5 298.3 L268 299.2 L268.5 298.6 L269 298.3 L269.5 298.2 L270 298.2 L270.5 298.3 L271 298 L271.5 299.1 L272 298.9 L272.5 299.2 L273 298.8 L273.5 299.2 L274 299.3 L274.5 299.9 L275 299.9 L275.5 299.8 L276 299.5 L276.5 299.4 L277 299.7 L277.5 299.8 L278 299.9 L278.5 299.8 L279 300.9 L279.5 300.5 L280 299.7 L280.5 300.1 L281 300 L281.5 300.7 L282 301.1 L282.5 300.4 L283 301 L283.5 300.7 L284 301.4 L284.5 301.5 L285 301.1 L285.5 301.3 L286 301.1 L286.5 301 L287 300.8 L287.5 301.4 L288 301.3 L288.5 301.2 L289 301.3 L289.5 301.3 L290 301.1 L290.5 301.3 L291 302 L291.5 301.6 L292 302.1 L292.5 301.2 L293 301.2 L293.5 301.8 L294 302.1 L294.5 301.5 L295 302.1 L295.5 302.2 L296 302.3 L296.5 301.1 L297 302 L297.5 301.4 L298 302.1 L298.5 302.2 L299 302.7 L299.5 301.7 L300 301.9 L300.5 301.2 L301 302.6 L301.5 301.4 L302 302 L302.5 303.2 L303 302.8 L303.5 302 L304 302.6 L304.5 303 L305 302.9 L305.5 302.7 L306 302.2 L306.5 303.2 L307 302.9 L307.5 303.3 L308 303.2 L308.5 302.9 L309 303.7 L309.5 303 L310 303.4 L310.5 303 L311 303.2 L311.5 303.2 L312 303.1 L312.5 303.4 L313 303.9 L313.5 304.1 L314 303.9 L314.5 303.3 L315 304 L315.5 303.5 L316 304 L316.5 302.8 L317 303.8 L317.5 303 L318 303.6 L318.5 302.9 L319 303.3 L319.5 302.8 L320 302 L320.5 302.2 L321 302.3 L321.5 302.2 L322 301.1 L322.5 301.4 L323 301.5 L323.5 301.6 L324 301.8 L324.5 301.6 L325 302.9 L325.5 302.4 L326 302.4 L326.5 303.1 L327 302.9 L327.5 303.6 L328 303.2 L328.5 303.8 L329 303.9 L329.5 304.2 L330 303.9 L330.5 304.4 L331 304.3 L331.5 304.7 L332 305.2 L332.5 306.2 L333 305.2 L333.5 305.6 L334 306.6 L334.5 305.8 L335 305.6 L335.5 305.8 L336 305.5 L336.5 306.3 L337 305.9 L337.5 304.7 L338 305.5 L338.5 305.4 L339 304.5 L339.5 305 L340 305.2 L340.5 305.1 L341 305.4 L341.5 304.6 L342 305.6 L342.5 305.6 L343 305.4 L343.5 305.1 L344 305.2 L344.5 305 L345 305.6 L345.5 305.3 L346 305.8 L346.5 304.9 L347 305.5 L347.5 304.7 L348 304.8 L348.5 304.4 L349 305 L349.5 304.7 L350 304.9 L350.5 305.2 L351 304.5 L351.5 304.6 L352 304.8 L352.5 304.3 L353 304.1 L353.5 304.4 L354 304.3 L354.5 304.4 L355 304.3 L355.5 303.7 L356 304 L356.5 304.2 L357 303.5 L357.5 303.7 L358 303.2 L358.5 303.5 L359 304 L359.5 303.3 L360 302.8 L360.5 303.2 L361 303 L361.5 303.3 L362 302.3 L362.5 302.4 L363 302.6 L363.5 302 L364 302.8 L364.5 301.6 L365 301.9 L365.5 301.6 L366 301.8 L366.5 302.1 L367 301.9 L367.5 301.9 L368 301.7 L368.5 300.7 L369 301.3 L369.5 300.5 L370 300.6 L370.5 300.5 L371 300.2 L371.5 300.2 L372 299.5 L372.5 299.9 L373 299.2 L373.5 299 L374 298.5 L374.5 298.2 L375 297.6 L375.5 297.7 L376 296.5 L376.5 296.4 L377 295.9 L377.5 295.3 L378 295 L378.5 294.3 L379 294.1 L379.5 293.7 L380 293.1 L380.5 292.7 L381 291.9 L381.5 291.3 L382 291.1 L382.5 290.7 L383 290.7 L383.5 289.8 L384 289.6 L384.5 289.1 L385 288.9 L385.5 288.2 L386 287.9 L386.5 287.4 L387 286.9 L387.5 286.5 L388 286.2 L388.5 286.1 L389 285.6 L389.5 285.3 L390 285 L390.5 284.7 L391 284.5 L391.5 284.2 L392 283.9 L392.5 283.9 L393 283.5 L393.5 283.4 L394 283.3 L394.5 282.9 L395 282.5 L395.5 282 L396 281.5 L396.5 280.8 L397 280 L397.5 279.3 L398 278.5 L398.5 277.7 L399 276.9 L399.5 276 L400 275.1 L400.5 274.1 L401 273.1 L401.5 272 L402 270.9" stroke="#0000ff" stroke-width="1.4"/>
<path d="M402 270.9 L402.5 269.6 L403 268.3 L403.5 266.8 L404 265.4 L404.5 264 L405 262.6 L405.5 261.3 L406 259.9 L406.5 258.5 L407 257.1 L407.5 255.6 L408 254 L408.5 252.4 L409 251 L409.5 249.6 L410 248.1 L410.5 246.8 L411 246.2 L411.5 246.4 L412 246.9 L412.5 247.5 L413 248.2 L413.5 248.8 L414 249.5 L414.5 250.1 L415 250.8 L415.5 251.4 L416 252.1 L416.5 252.8 L417 253.2 L417.5 253.3 L418 253 L418.5 252.5 L419 251.6 L419.5 250.3 L420 249 L420.5 248 L421 246.9 L421.5 245 L422 241 L422.5 237 L423 234.5 L423.5 232.6 L424 230.1 L424.5 225.7 L425 215.8 L425.5 205 L426 196.2 L426.5 187.5 L427 178 L427.5 167.2 L428 155.5 L428.5 143.6 L429 132 L429.5 120.7 L430 109.5 L430.5 98.3 L431 87 L431.5 75.3 L432 63.3 L432.5 52.4 L433 42.9 L433.5 34.1 L434 28 L434.5 24.1 L435 22.3 L435.5 24.1 L436 28 L436.5 33.9 L437 42.6 L437.5 52.9 L438 66.4 L438.5 81.8 L439 97 L439.5 111.3 L440 125.7 L440.5 140 L441 154.5 L441.5 169 L442 182.7 L442.5 195.7 L443 208.2 L443.5 220 L444 231.9 L444.5 242.2 L445 248 L445.5 251.7 L446 254.7 L446.5 257.9 L447 260.9 L447.5 263.8 L448 266.4 L448.5 269 L449 271.4 L449.5 273.7 L450 275.9 L450.5 278 L451 280 L451.5 282.1 L452 284.1 L452.5 286.2 L453 288.3 L453.5 290.4 L454 292.4 L454.5 294.5 L455 296.5 L455.5 298.5 L456 300.4 L456.5 302.2 L457 304 L457.5 305.7 L458 307.3 L458.5 308.9 L459 310.5 L459.5 312 L460 313.3 L460.5 314.4 L461 315.4 L461.5 316.2 L462 317 L462.5 317.7 L463 318.4 L463.5 319 L464 319.4 L464.5 319.5 L465 319.7 L465.5 319.8 L466 319.9 L466.5 320 L467 320 L467.5 319.9 L468 319.5 L468.5 319 L469 318.5 L469.5 318 L470 317.5 L470.5 317 L471 316.5 L471.5 316.1 L472 315.9 L472.5 316 L473 316.5 L473.5 317.2 L474 317.9 L474.5 318.6 L475 319.5 L475.5 320.4 L476 321.1 L476.5 321.6 L477 321.9 L477.5 322.2 L478 322.5 L478.5 322.7 L479 322.9 L479.5 323 L480 323.2 L480.5 323.3 L481 323.4 L481.5 323.4 L482 323.3 L482.5 323.2 L483 322.9 L483.5 322.7 L484 322.5 L484.5 322.3 L485 322 L485.5 321.8 L486 321.6 L486.5 321.4 L487 321.3 L487.5 321.2 L488 321.1 L488.5 321 L489 320.9 L489.5 320.8 L490 320.7 L490.5 320.6 L491 320.6 L491.5 320.5 L492 320.5 L492.5 320.4 L493 320.4 L493.5 320.3 L494 320.3 L494.5 320.2 L495 320.2 L495.5 320.1 L496 320.1 L496.5 320.1 L497 320 L497.5 320 L498 320 L498.5 320 L499 320 L499.5 320.3 L500 320.6 L500.5 321.1 L501 321.5 L501.5 322 L502 322.5 L502.5 323.1 L503 323.6 L503.5 324.2 L504 324.7 L504.5 325.2 L505 325.5 L505.5 325.9 L506 326.2 L506.5 326.4 L507 326.5 L507.5 326.6 L508 326.6 L508.5 326.7 L509 326.7 L509.5 326.8 L510 326.8 L510.5 326.8 L511 326.9 L511.5 326.9 L512 326.9 L512.5 326.9 L513 326.9 L513.5 326.9 L514 326.9 L514.5 326.9 L515 326.9 L515.5 326.9 L516 326.9 L516.5 326.9 L517 326.9 L517.5 326.9 L518 326.9 L518.5 326.9 L519 326.9 L519.5 326.9 L520 326.9 L520.5 326.9 L521 326.9" stroke="#0000ff" stroke-width="1.25"/>
</g>
<g stroke="#000" stroke-width="1.3" fill="none" shape-rendering="crispEdges">
<rect x="67.5" y="6.5" width="468.0" height="338.0"/>
<path d="M119.5 344.5 v-6 M119.5 6.5 v6 M171.5 344.5 v-3.5 M171.5 6.5 v3.5 M223.5 344.5 v-6 M223.5 6.5 v6 M275.5 344.5 v-3.5 M275.5 6.5 v3.5 M327.5 344.5 v-6 M327.5 6.5 v6 M379.5 344.5 v-3.5 M379.5 6.5 v3.5 M431.5 344.5 v-6 M431.5 6.5 v6 M483.5 344.5 v-3.5 M483.5 6.5 v3.5 M67.5 327.5 h5.5 M535.5 327.5 h-5.5 M67.5 298.5 h3 M535.5 298.5 h-3 M67.5 270.5 h5.5 M535.5 270.5 h-5.5 M67.5 241.5 h3 M535.5 241.5 h-3 M67.5 212.5 h5.5 M535.5 212.5 h-5.5 M67.5 184.5 h3 M535.5 184.5 h-3 M67.5 155.5 h5.5 M535.5 155.5 h-5.5 M67.5 126.5 h3 M535.5 126.5 h-3 M67.5 97.5 h5.5 M535.5 97.5 h-5.5 M67.5 69.5 h3 M535.5 69.5 h-3 M67.5 40.5 h5.5 M535.5 40.5 h-5.5 M67.5 12.5 h3 M535.5 12.5 h-3"/>
</g>
<text transform="translate(119.8 359.9) scale(1 1.07)" font-size="12px" text-anchor="middle">2.0</text>
<text transform="translate(223.8 359.9) scale(1 1.07)" font-size="12px" text-anchor="middle">2.4</text>
<text transform="translate(327.8 359.9) scale(1 1.07)" font-size="12px" text-anchor="middle">2.8</text>
<text transform="translate(431.8 359.9) scale(1 1.07)" font-size="12px" text-anchor="middle">3.2</text>
<text transform="translate(535.8 359.9) scale(1 1.07)" font-size="12px" text-anchor="middle">3.6</text>
<text transform="translate(60.8 328.9) scale(1 1.07)" font-size="12px" text-anchor="end">0.0</text>
<text transform="translate(60.6 276.2) scale(1 1.07)" font-size="12px" text-anchor="end">5.0x10</text>
<text transform="translate(60.8 269.7) scale(1 1.07)" font-size="7px">4</text>
<text transform="translate(60.6 218.8) scale(1 1.07)" font-size="12px" text-anchor="end">1.0x10</text>
<text transform="translate(60.8 212.3) scale(1 1.07)" font-size="7px">5</text>
<text transform="translate(60.6 161.4) scale(1 1.07)" font-size="12px" text-anchor="end">1.5x10</text>
<text transform="translate(60.8 154.9) scale(1 1.07)" font-size="7px">5</text>
<text transform="translate(60.6 104) scale(1 1.07)" font-size="12px" text-anchor="end">2.0x10</text>
<text transform="translate(60.8 97.5) scale(1 1.07)" font-size="7px">5</text>
<text transform="translate(60.6 46.6) scale(1 1.07)" font-size="12px" text-anchor="end">2.5x10</text>
<text transform="translate(60.8 40.1) scale(1 1.07)" font-size="7px">5</text>
<text transform="translate(302 384.9) scale(1 1.07)" font-size="15.5px" text-anchor="middle" xml:space="preserve">Energy  (eV)</text>
<g transform="translate(12.7 0) rotate(-90) scale(1 1.05)" font-size="15px">
<text x="-251.3" y="0">CL</text>
<text x="-222" y="0">Intensity</text>
<text x="-156.8" y="0" letter-spacing="0.85">(a.u.)</text>
</g>
<g stroke-width="2" fill="none">
<path d="M107 23.8 H142.5" stroke="#ff0000"/>
<path d="M107 58.8 H142.5" stroke="#8b008b"/>
<path d="M107 94.5 H142.5" stroke="#0000ff"/>
</g>
<text transform="translate(151 26.4) scale(1 1.06)" font-size="22.5px" letter-spacing="0.55">C=5x10</text>
<text transform="translate(234.2 15.7) scale(1 1.03)" font-size="15px">19</text>
<text transform="translate(257.1 26.4) scale(1 1.06)" font-size="22.5px" letter-spacing="0.5">cm</text>
<text transform="translate(288 15.7) scale(1 1.03)" font-size="15px" letter-spacing="0.6">-3</text>
<text transform="translate(151.4 55.7) scale(1 1.06)" font-size="22.5px" letter-spacing="0.5">Mg</text>
<text transform="translate(184.2 55) scale(1 0.75)" font-size="25px" class="sym">≈</text>
<text transform="translate(197.6 55.7) scale(1 1.06)" font-size="22.5px">10</text>
<text transform="translate(222.3 44.3) scale(1 1.03)" font-size="15px">21</text>
<text transform="translate(247 55.7) scale(1 1.06)" font-size="22.5px" letter-spacing="1.7">cm</text>
<text transform="translate(278.5 44.3) scale(1 1.03)" font-size="15px">-3</text>
<text transform="translate(151 95.1) scale(1 1.06)" font-size="22.5px" letter-spacing="0.4">Mg=10</text>
<text transform="translate(223.8 84) scale(1 1.03)" font-size="15px">20</text>
<text transform="translate(248.5 95.1) scale(1 1.06)" font-size="22.5px" letter-spacing="1.0">cm</text>
<text transform="translate(280 84) scale(1 1.03)" font-size="15px">-3</text>
<text transform="translate(205 155.9) scale(1 1.045)" font-size="13px">C<tspan font-size="8.3px" dy="3.1">Ga</tspan><tspan dy="-3.1"> to N</tspan><tspan font-size="8.3px" dy="3.1">Ga</tspan><tspan dy="-3.1">-V</tspan><tspan font-size="8.3px" dy="3.1">N</tspan><tspan dy="-3.1"> transition</tspan></text>
<text transform="translate(139.5 173.9) scale(1 1.045)" font-size="13px">N<tspan font-size="8.3px" dy="3.1">Ga</tspan><tspan dy="-3.1">-V</tspan><tspan font-size="8.3px" dy="3.1">N</tspan><tspan dy="-3.1"> (deep acc.at 0.9-1.1 eV above the VB)</tspan></text>
<text transform="translate(246.8 192) scale(1 1.045)" font-size="13px">( 2.3 eV)</text>
<text transform="translate(475.4 131.5) scale(1 1.045)" font-size="13.5px">C<tspan font-size="8.3px" dy="3.1">Ga</tspan></text>
<text transform="translate(487 150.3) scale(1 1.045)" font-size="13px" text-anchor="middle">shallow donor</text>
<text transform="translate(487.5 168.3) scale(1 1.045)" font-size="13px" text-anchor="middle">(3.3 eV)</text>
<path d="M261.5 202.3 L218.4 268.1" stroke="#000" stroke-width="1.0" fill="none"/><path d="M212.7 276.9 L216.0 266.5 L220.9 269.7 Z" fill="#000"/>
<path d="M485.9 174.7 L470.5 282.1" stroke="#000" stroke-width="1.0" fill="none"/><path d="M469.2 291.0 L467.8 281.7 L473.2 282.5 Z" fill="#000"/>
<g fill="#000">
<rect x="601" y="16.3" width="263" height="6.7"/>
<rect x="694" y="39.9" width="142" height="6.1"/>
<rect x="693.8" y="251" width="95.2" height="6.2"/>
<rect x="600" y="344" width="258.7" height="6.7"/>
</g>
<rect x="739.5" y="43" width="4.5" height="190" fill="#ff0000"/>
<path d="M729.2 228.2 H754.6 L741.8 253.4 Z" fill="#ff0000"/>
<rect x="810.3" y="43" width="4" height="284" fill="#0000ff"/>
<path d="M800.4 322.5 H825.2 L812.7 347 Z" fill="#0000ff"/>
<g class="b">
<text x="550.8" y="21.3" font-size="30px">CB</text>
<text x="551.6" y="355.5" font-size="30px">VB</text>
<text transform="translate(632.2 75.6) scale(1 1.06)" font-size="24px">C</text>
<text x="651" y="78.7" font-size="16px">Ga</text>
<text x="617.8" y="110.7" font-size="16.6px" word-spacing="0.6">200 meV</text>
<text transform="translate(614.3 239.5) scale(1 1.05)" font-size="24px">N</text>
<text x="632.2" y="242.5" font-size="16px">Ga</text>
<text x="655.7" y="239.4" font-size="25px">-</text>
<text transform="translate(663.5 239.5) scale(1 1.05)" font-size="24px">V</text>
<text x="680.3" y="242.5" font-size="16.5px">N</text>
<text x="623.4" y="277.6" font-size="19px" class="sym">~</text>
<text x="634.2" y="276" font-size="16px" letter-spacing="0.6">1.0 eV</text>
</g>
<g class="b" style="fill:#ff0000" fill="#ff0000">
<text x="597.6" y="405.5" font-size="26px" style="fill:#ff0000">C</text>
<text x="616.2" y="409.1" font-size="16px" style="fill:#ff0000">Ga</text>
<text transform="translate(644.9 407.6) scale(1 0.7)" x="0" y="0" font-size="26px" class="arr" style="fill:#ff0000">⇒</text>
<text x="677.2" y="405.5" font-size="26px" style="fill:#ff0000">N</text>
<text x="696" y="409.1" font-size="16px" style="fill:#ff0000">Ga</text>
<text x="719.6" y="405.5" font-size="26px" style="fill:#ff0000">-</text>
<text x="726.8" y="405.5" font-size="26px" style="fill:#ff0000">V</text>
<text x="745.6" y="409.1" font-size="16px" style="fill:#ff0000">N</text>
<text x="763.8" y="405.5" font-size="26px" style="fill:#ff0000">2.3</text>
<text x="806.6" y="405.5" font-size="26px" style="fill:#ff0000">eV</text>
</g>
<g class="b" style="fill:#0000ff" fill="#0000ff">
<text x="613" y="437.4" font-size="26px" style="fill:#0000ff">C</text>
<text x="630.8" y="441.3" font-size="16px" style="fill:#0000ff">Ga</text>
<text transform="translate(662.7 439.2) scale(1 0.7)" x="0" y="0" font-size="26px" class="arr" style="fill:#0000ff">⇒</text>
<text x="696" y="437.4" font-size="26px" style="fill:#0000ff">VB</text>
<text x="738.9" y="437.4" font-size="26px" style="fill:#0000ff">3.3</text>
<text x="781.5" y="437.4" font-size="26px" style="fill:#0000ff">eV</text>
</g>
</svg>
</body></html>
